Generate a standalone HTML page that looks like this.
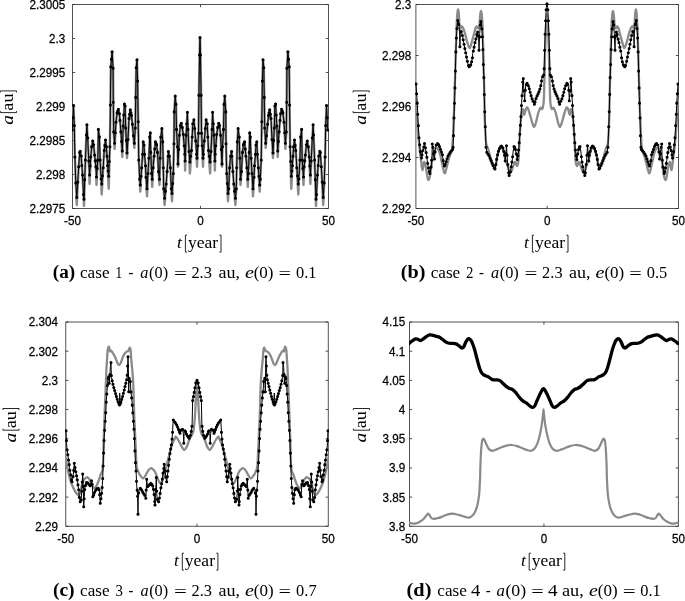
<!DOCTYPE html>
<html><head><meta charset="utf-8"><title>Figure</title>
<style>html,body{margin:0;padding:0;background:#fff;width:685px;height:601px;overflow:hidden}svg{display:block;will-change:transform}</style></head>
<body>
<svg width="685" height="601" viewBox="0 0 685 601"><defs><clipPath id="c1"><rect x="72" y="0" width="257" height="209"/></clipPath><clipPath id="c2"><rect x="415" y="0" width="264" height="209"/></clipPath><clipPath id="c3"><rect x="65" y="318" width="264" height="209"/></clipPath><clipPath id="c4"><rect x="409" y="318" width="270" height="209"/></clipPath></defs>
<g style="font-family:'Liberation Sans',sans-serif;font-size:11.7px" fill="#000" stroke="#000" stroke-width="0.25">
<path d="M72.5,4.5H328.5V208.5H72.5Z" fill="none" stroke="#262626" stroke-width="0.8"/>
<path d="M72.5,4.50h2.7M328.5,4.50h-2.7M72.5,38.50h2.7M328.5,38.50h-2.7M72.5,72.50h2.7M328.5,72.50h-2.7M72.5,106.50h2.7M328.5,106.50h-2.7M72.5,140.50h2.7M328.5,140.50h-2.7M72.5,174.50h2.7M328.5,174.50h-2.7M72.5,208.50h2.7M328.5,208.50h-2.7M200.5,208.5v-2.7M200.5,4.5v2.7" fill="none" stroke="#262626" stroke-width="0.8"/>
<text transform="translate(65.2,8.90) scale(1,1.03)" text-anchor="end">2.3005</text>
<text transform="translate(65.2,42.90) scale(1,1.03)" text-anchor="end">2.3</text>
<text transform="translate(65.2,76.90) scale(1,1.03)" text-anchor="end">2.2995</text>
<text transform="translate(65.2,110.90) scale(1,1.03)" text-anchor="end">2.299</text>
<text transform="translate(65.2,144.90) scale(1,1.03)" text-anchor="end">2.2985</text>
<text transform="translate(65.2,178.90) scale(1,1.03)" text-anchor="end">2.298</text>
<text transform="translate(65.2,212.90) scale(1,1.03)" text-anchor="end">2.2975</text>
<text transform="translate(72.5,224.90) scale(1,1.03)" text-anchor="middle">-50</text>
<text transform="translate(200.5,224.90) scale(1,1.03)" text-anchor="middle">0</text>
<text transform="translate(328.5,224.90) scale(1,1.03)" text-anchor="middle">50</text>
</g>
<g clip-path="url(#c1)">
<polyline points="72.30,130.00 73.50,105.50 74.30,125.60 74.90,157.00 75.80,183.00 76.80,205.00 78.70,166.80 79.70,152.40 80.20,151.40 81.20,156.00 82.50,175.00 83.50,194.50 84.00,206.00 85.40,160.00 86.40,135.00 86.90,124.70 87.70,138.00 88.80,161.00 89.60,184.00 90.80,157.00 91.70,146.70 92.70,141.00 93.60,144.80 94.60,155.00 95.90,166.80 96.50,185.00 97.80,160.00 98.40,129.40 99.40,137.00 100.10,160.00 101.10,179.00 101.70,194.50 103.20,167.70 104.20,150.50 105.50,140.00 106.40,146.70 107.60,165.80 108.70,188.80 109.90,146.70 110.40,105.00 110.80,66.80 112.10,51.90 113.10,68.30 113.30,102.20 113.70,131.90 114.60,149.00 116.00,122.30 117.10,112.70 118.40,109.30 119.40,113.70 120.00,120.40 120.90,131.90 122.30,157.00 123.20,126.00 124.40,104.00 125.10,106.00 125.70,128.00 127.00,158.00 128.00,139.50 129.00,118.50 130.30,109.90 131.50,115.60 132.40,124.20 133.40,135.70 134.30,148.00 135.30,128.00 135.70,97.40 136.20,67.80 137.00,59.70 137.60,81.10 138.20,121.80 138.80,160.00 139.70,179.20 140.30,191.60 141.70,167.70 142.60,154.30 143.20,141.90 144.00,145.00 144.50,154.30 145.50,165.80 146.00,177.30 147.00,196.40 148.90,158.20 149.70,137.10 150.30,132.90 150.80,152.40 151.60,173.50 152.20,186.90 153.10,167.70 154.10,156.20 155.40,141.90 156.60,144.80 157.50,152.40 158.50,171.60 159.50,185.00 160.80,137.10 161.90,128.50 162.70,141.90 163.30,167.70 163.70,188.80 164.60,205.00 166.20,184.00 167.10,171.60 168.10,156.20 168.40,151.50 169.40,156.20 170.40,167.70 171.30,188.80 172.00,201.20 173.30,173.50 174.00,143.80 174.20,111.90 175.20,96.00 176.00,104.40 176.50,129.40 177.50,146.70 178.00,166.80 179.40,135.20 180.40,125.60 181.30,123.30 182.30,127.50 183.20,134.20 184.20,145.70 184.80,154.30 185.10,170.60 186.10,135.20 187.40,112.30 188.00,129.40 189.00,151.50 189.90,173.50 191.50,150.50 192.80,123.70 193.90,119.70 194.70,128.50 195.70,140.90 196.60,154.30 197.00,166.80 198.50,133.30 198.90,95.20 199.50,55.00 200.00,37.60 200.50,55.00 201.10,95.20 201.50,133.30 203.00,166.80 203.40,154.30 204.30,140.90 205.30,128.50 206.10,119.70 207.20,123.70 208.50,150.50 210.10,173.50 211.00,151.50 212.00,129.40 212.60,112.30 213.90,135.20 214.90,170.60 215.20,154.30 215.80,145.70 216.80,134.20 217.70,127.50 218.70,123.30 219.60,125.60 220.60,135.20 222.00,166.80 222.50,146.70 223.50,129.40 224.00,104.40 224.80,96.00 225.80,111.90 226.00,143.80 226.70,173.50 228.00,201.20 228.70,188.80 229.60,167.70 230.60,156.20 231.60,151.50 231.90,156.20 232.90,171.60 233.80,184.00 235.40,205.00 236.30,188.80 236.70,167.70 237.30,141.90 238.10,128.50 239.20,137.10 240.50,185.00 241.50,171.60 242.50,152.40 243.40,144.80 244.60,141.90 245.90,156.20 246.90,167.70 247.80,186.90 248.40,173.50 249.20,152.40 249.70,132.90 250.30,137.10 251.10,158.20 253.00,196.40 254.00,177.30 254.50,165.80 255.50,154.30 256.00,145.00 256.80,141.90 257.40,154.30 258.30,167.70 259.70,191.60 260.30,179.20 261.20,160.00 261.80,121.80 262.40,81.10 263.00,59.70 263.80,67.80 264.30,97.40 264.70,128.00 265.70,148.00 266.60,135.70 267.60,124.20 268.50,115.60 269.70,109.90 271.00,118.50 272.00,139.50 273.00,158.00 274.30,128.00 274.90,106.00 275.60,104.00 276.80,126.00 277.70,157.00 279.10,131.90 280.00,120.40 280.60,113.70 281.60,109.30 282.90,112.70 284.00,122.30 285.40,149.00 286.30,131.90 286.70,102.20 286.90,68.30 287.90,51.90 289.20,66.80 289.60,105.00 290.10,146.70 291.30,188.80 292.40,165.80 293.60,146.70 294.50,140.00 295.80,150.50 296.80,167.70 298.30,194.50 298.90,179.00 299.90,160.00 300.60,137.00 301.60,129.40 302.20,160.00 303.50,185.00 304.10,166.80 305.40,155.00 306.40,144.80 307.30,141.00 308.30,146.70 309.20,157.00 310.40,184.00 311.20,161.00 312.30,138.00 313.10,124.70 313.60,135.00 314.60,160.00 316.00,206.00 316.50,194.50 317.50,175.00 318.80,156.00 319.80,151.40 320.30,152.40 321.30,166.80 323.20,205.00 324.20,183.00 325.10,157.00 325.70,125.60 326.50,105.50 327.70,130.00" fill="none" stroke="#8a8a8a" stroke-width="2.4" stroke-linejoin="round" stroke-linecap="round"/>
<polyline points="72.30,130.00 73.50,105.50 74.30,125.60 74.90,157.00 75.80,183.00 76.80,197.40 78.70,166.80 79.70,152.40 80.20,151.40 81.20,156.00 82.50,175.00 83.50,194.50 84.00,199.30 85.40,160.00 86.40,135.00 86.90,124.70 87.70,138.00 88.80,161.00 89.60,175.00 90.80,157.00 91.70,146.70 92.70,141.00 93.60,144.80 94.60,155.00 95.90,166.80 96.50,177.00 97.80,160.00 98.40,129.40 99.40,137.00 100.10,160.00 101.10,179.00 101.70,184.00 103.20,167.70 104.20,150.50 105.50,140.00 106.40,146.70 107.60,165.80 108.70,176.30 109.90,146.70 110.40,105.00 110.80,66.80 112.10,51.90 113.10,68.30 113.30,102.20 113.70,131.90 114.60,143.30 116.00,122.30 117.10,112.70 118.40,109.30 119.40,113.70 120.00,120.40 120.90,131.90 122.30,151.00 123.20,126.00 124.40,104.00 125.10,106.00 125.70,128.00 127.00,153.00 128.00,139.50 129.00,118.50 130.30,109.90 131.50,115.60 132.40,124.20 133.40,135.70 134.30,143.30 135.30,128.00 135.70,97.40 136.20,67.80 137.00,59.70 137.60,81.10 138.20,121.80 138.80,160.00 139.70,179.20 140.30,185.00 141.70,167.70 142.60,154.30 143.20,141.90 144.00,145.00 144.50,154.30 145.50,165.80 146.00,177.30 147.00,188.80 148.90,158.20 149.70,137.10 150.30,132.90 150.80,152.40 151.60,173.50 152.20,179.20 153.10,167.70 154.10,156.20 155.40,141.90 156.60,144.80 157.50,152.40 158.50,171.60 159.50,179.20 160.80,137.10 161.90,128.50 162.70,141.90 163.30,167.70 163.70,188.80 164.60,198.30 166.20,184.00 167.10,171.60 168.10,156.20 168.40,151.50 169.40,156.20 170.40,167.70 171.30,188.80 172.00,193.50 173.30,173.50 174.00,143.80 174.20,111.90 175.20,96.00 176.00,104.40 176.50,129.40 177.50,146.70 178.00,163.90 179.40,135.20 180.40,125.60 181.30,123.30 182.30,127.50 183.20,134.20 184.20,145.70 184.80,154.30 185.10,161.00 186.10,135.20 187.40,112.30 188.00,129.40 189.00,151.50 189.90,162.00 191.50,150.50 192.80,123.70 193.90,119.70 194.70,128.50 195.70,140.90 196.60,154.30 197.00,158.20 198.50,133.30 198.90,95.20 199.50,55.00 200.00,37.60 200.50,55.00 201.10,95.20 201.50,133.30 203.00,158.20 203.40,154.30 204.30,140.90 205.30,128.50 206.10,119.70 207.20,123.70 208.50,150.50 210.10,162.00 211.00,151.50 212.00,129.40 212.60,112.30 213.90,135.20 214.90,161.00 215.20,154.30 215.80,145.70 216.80,134.20 217.70,127.50 218.70,123.30 219.60,125.60 220.60,135.20 222.00,163.90 222.50,146.70 223.50,129.40 224.00,104.40 224.80,96.00 225.80,111.90 226.00,143.80 226.70,173.50 228.00,193.50 228.70,188.80 229.60,167.70 230.60,156.20 231.60,151.50 231.90,156.20 232.90,171.60 233.80,184.00 235.40,198.30 236.30,188.80 236.70,167.70 237.30,141.90 238.10,128.50 239.20,137.10 240.50,179.20 241.50,171.60 242.50,152.40 243.40,144.80 244.60,141.90 245.90,156.20 246.90,167.70 247.80,179.20 248.40,173.50 249.20,152.40 249.70,132.90 250.30,137.10 251.10,158.20 253.00,188.80 254.00,177.30 254.50,165.80 255.50,154.30 256.00,145.00 256.80,141.90 257.40,154.30 258.30,167.70 259.70,185.00 260.30,179.20 261.20,160.00 261.80,121.80 262.40,81.10 263.00,59.70 263.80,67.80 264.30,97.40 264.70,128.00 265.70,143.30 266.60,135.70 267.60,124.20 268.50,115.60 269.70,109.90 271.00,118.50 272.00,139.50 273.00,153.00 274.30,128.00 274.90,106.00 275.60,104.00 276.80,126.00 277.70,151.00 279.10,131.90 280.00,120.40 280.60,113.70 281.60,109.30 282.90,112.70 284.00,122.30 285.40,143.30 286.30,131.90 286.70,102.20 286.90,68.30 287.90,51.90 289.20,66.80 289.60,105.00 290.10,146.70 291.30,176.30 292.40,165.80 293.60,146.70 294.50,140.00 295.80,150.50 296.80,167.70 298.30,184.00 298.90,179.00 299.90,160.00 300.60,137.00 301.60,129.40 302.20,160.00 303.50,177.00 304.10,166.80 305.40,155.00 306.40,144.80 307.30,141.00 308.30,146.70 309.20,157.00 310.40,175.00 311.20,161.00 312.30,138.00 313.10,124.70 313.60,135.00 314.60,160.00 316.00,199.30 316.50,194.50 317.50,175.00 318.80,156.00 319.80,151.40 320.30,152.40 321.30,166.80 323.20,197.40 324.20,183.00 325.10,157.00 325.70,125.60 326.50,105.50 327.70,130.00" fill="none" stroke="#000" stroke-width="1.0" stroke-linejoin="round" stroke-linecap="round"/>
<path d="M70.75,130.00a1.55,1.55 0 1,0 3.1,0a1.55,1.55 0 1,0 -3.1,0M71.35,117.75a1.55,1.55 0 1,0 3.1,0a1.55,1.55 0 1,0 -3.1,0M71.95,105.50a1.55,1.55 0 1,0 3.1,0a1.55,1.55 0 1,0 -3.1,0M72.75,125.60a1.55,1.55 0 1,0 3.1,0a1.55,1.55 0 1,0 -3.1,0M73.35,157.00a1.55,1.55 0 1,0 3.1,0a1.55,1.55 0 1,0 -3.1,0M74.25,183.00a1.55,1.55 0 1,0 3.1,0a1.55,1.55 0 1,0 -3.1,0M75.25,197.40a1.55,1.55 0 1,0 3.1,0a1.55,1.55 0 1,0 -3.1,0M76.20,182.10a1.55,1.55 0 1,0 3.1,0a1.55,1.55 0 1,0 -3.1,0M77.15,166.80a1.55,1.55 0 1,0 3.1,0a1.55,1.55 0 1,0 -3.1,0M78.15,152.40a1.55,1.55 0 1,0 3.1,0a1.55,1.55 0 1,0 -3.1,0M78.65,151.40a1.55,1.55 0 1,0 3.1,0a1.55,1.55 0 1,0 -3.1,0M79.65,156.00a1.55,1.55 0 1,0 3.1,0a1.55,1.55 0 1,0 -3.1,0M80.30,165.50a1.55,1.55 0 1,0 3.1,0a1.55,1.55 0 1,0 -3.1,0M80.95,175.00a1.55,1.55 0 1,0 3.1,0a1.55,1.55 0 1,0 -3.1,0M81.95,194.50a1.55,1.55 0 1,0 3.1,0a1.55,1.55 0 1,0 -3.1,0M82.45,199.30a1.55,1.55 0 1,0 3.1,0a1.55,1.55 0 1,0 -3.1,0M83.15,179.65a1.55,1.55 0 1,0 3.1,0a1.55,1.55 0 1,0 -3.1,0M83.85,160.00a1.55,1.55 0 1,0 3.1,0a1.55,1.55 0 1,0 -3.1,0M84.85,135.00a1.55,1.55 0 1,0 3.1,0a1.55,1.55 0 1,0 -3.1,0M85.35,124.70a1.55,1.55 0 1,0 3.1,0a1.55,1.55 0 1,0 -3.1,0M86.15,138.00a1.55,1.55 0 1,0 3.1,0a1.55,1.55 0 1,0 -3.1,0M87.25,161.00a1.55,1.55 0 1,0 3.1,0a1.55,1.55 0 1,0 -3.1,0M88.05,175.00a1.55,1.55 0 1,0 3.1,0a1.55,1.55 0 1,0 -3.1,0M88.65,166.00a1.55,1.55 0 1,0 3.1,0a1.55,1.55 0 1,0 -3.1,0M89.25,157.00a1.55,1.55 0 1,0 3.1,0a1.55,1.55 0 1,0 -3.1,0M90.15,146.70a1.55,1.55 0 1,0 3.1,0a1.55,1.55 0 1,0 -3.1,0M91.15,141.00a1.55,1.55 0 1,0 3.1,0a1.55,1.55 0 1,0 -3.1,0M92.05,144.80a1.55,1.55 0 1,0 3.1,0a1.55,1.55 0 1,0 -3.1,0M93.05,155.00a1.55,1.55 0 1,0 3.1,0a1.55,1.55 0 1,0 -3.1,0M93.70,160.90a1.55,1.55 0 1,0 3.1,0a1.55,1.55 0 1,0 -3.1,0M94.35,166.80a1.55,1.55 0 1,0 3.1,0a1.55,1.55 0 1,0 -3.1,0M94.95,177.00a1.55,1.55 0 1,0 3.1,0a1.55,1.55 0 1,0 -3.1,0M95.60,168.50a1.55,1.55 0 1,0 3.1,0a1.55,1.55 0 1,0 -3.1,0M96.25,160.00a1.55,1.55 0 1,0 3.1,0a1.55,1.55 0 1,0 -3.1,0M96.85,129.40a1.55,1.55 0 1,0 3.1,0a1.55,1.55 0 1,0 -3.1,0M97.85,137.00a1.55,1.55 0 1,0 3.1,0a1.55,1.55 0 1,0 -3.1,0M98.55,160.00a1.55,1.55 0 1,0 3.1,0a1.55,1.55 0 1,0 -3.1,0M99.55,179.00a1.55,1.55 0 1,0 3.1,0a1.55,1.55 0 1,0 -3.1,0M100.15,184.00a1.55,1.55 0 1,0 3.1,0a1.55,1.55 0 1,0 -3.1,0M100.90,175.85a1.55,1.55 0 1,0 3.1,0a1.55,1.55 0 1,0 -3.1,0M101.65,167.70a1.55,1.55 0 1,0 3.1,0a1.55,1.55 0 1,0 -3.1,0M102.65,150.50a1.55,1.55 0 1,0 3.1,0a1.55,1.55 0 1,0 -3.1,0M103.30,145.25a1.55,1.55 0 1,0 3.1,0a1.55,1.55 0 1,0 -3.1,0M103.95,140.00a1.55,1.55 0 1,0 3.1,0a1.55,1.55 0 1,0 -3.1,0M104.85,146.70a1.55,1.55 0 1,0 3.1,0a1.55,1.55 0 1,0 -3.1,0M105.45,156.25a1.55,1.55 0 1,0 3.1,0a1.55,1.55 0 1,0 -3.1,0M106.05,165.80a1.55,1.55 0 1,0 3.1,0a1.55,1.55 0 1,0 -3.1,0M106.60,171.05a1.55,1.55 0 1,0 3.1,0a1.55,1.55 0 1,0 -3.1,0M107.15,176.30a1.55,1.55 0 1,0 3.1,0a1.55,1.55 0 1,0 -3.1,0M107.75,161.50a1.55,1.55 0 1,0 3.1,0a1.55,1.55 0 1,0 -3.1,0M108.35,146.70a1.55,1.55 0 1,0 3.1,0a1.55,1.55 0 1,0 -3.1,0M108.85,105.00a1.55,1.55 0 1,0 3.1,0a1.55,1.55 0 1,0 -3.1,0M109.25,66.80a1.55,1.55 0 1,0 3.1,0a1.55,1.55 0 1,0 -3.1,0M109.90,59.35a1.55,1.55 0 1,0 3.1,0a1.55,1.55 0 1,0 -3.1,0M110.55,51.90a1.55,1.55 0 1,0 3.1,0a1.55,1.55 0 1,0 -3.1,0M111.55,68.30a1.55,1.55 0 1,0 3.1,0a1.55,1.55 0 1,0 -3.1,0M111.75,102.20a1.55,1.55 0 1,0 3.1,0a1.55,1.55 0 1,0 -3.1,0M112.15,131.90a1.55,1.55 0 1,0 3.1,0a1.55,1.55 0 1,0 -3.1,0M113.05,143.30a1.55,1.55 0 1,0 3.1,0a1.55,1.55 0 1,0 -3.1,0M113.75,132.80a1.55,1.55 0 1,0 3.1,0a1.55,1.55 0 1,0 -3.1,0M114.45,122.30a1.55,1.55 0 1,0 3.1,0a1.55,1.55 0 1,0 -3.1,0M115.55,112.70a1.55,1.55 0 1,0 3.1,0a1.55,1.55 0 1,0 -3.1,0M116.20,111.00a1.55,1.55 0 1,0 3.1,0a1.55,1.55 0 1,0 -3.1,0M116.85,109.30a1.55,1.55 0 1,0 3.1,0a1.55,1.55 0 1,0 -3.1,0M117.85,113.70a1.55,1.55 0 1,0 3.1,0a1.55,1.55 0 1,0 -3.1,0M118.45,120.40a1.55,1.55 0 1,0 3.1,0a1.55,1.55 0 1,0 -3.1,0M119.35,131.90a1.55,1.55 0 1,0 3.1,0a1.55,1.55 0 1,0 -3.1,0M120.05,141.45a1.55,1.55 0 1,0 3.1,0a1.55,1.55 0 1,0 -3.1,0M120.75,151.00a1.55,1.55 0 1,0 3.1,0a1.55,1.55 0 1,0 -3.1,0M121.65,126.00a1.55,1.55 0 1,0 3.1,0a1.55,1.55 0 1,0 -3.1,0M122.25,115.00a1.55,1.55 0 1,0 3.1,0a1.55,1.55 0 1,0 -3.1,0M122.85,104.00a1.55,1.55 0 1,0 3.1,0a1.55,1.55 0 1,0 -3.1,0M123.55,106.00a1.55,1.55 0 1,0 3.1,0a1.55,1.55 0 1,0 -3.1,0M124.15,128.00a1.55,1.55 0 1,0 3.1,0a1.55,1.55 0 1,0 -3.1,0M124.80,140.50a1.55,1.55 0 1,0 3.1,0a1.55,1.55 0 1,0 -3.1,0M125.45,153.00a1.55,1.55 0 1,0 3.1,0a1.55,1.55 0 1,0 -3.1,0M126.45,139.50a1.55,1.55 0 1,0 3.1,0a1.55,1.55 0 1,0 -3.1,0M127.45,118.50a1.55,1.55 0 1,0 3.1,0a1.55,1.55 0 1,0 -3.1,0M128.10,114.20a1.55,1.55 0 1,0 3.1,0a1.55,1.55 0 1,0 -3.1,0M128.75,109.90a1.55,1.55 0 1,0 3.1,0a1.55,1.55 0 1,0 -3.1,0M129.35,112.75a1.55,1.55 0 1,0 3.1,0a1.55,1.55 0 1,0 -3.1,0M129.95,115.60a1.55,1.55 0 1,0 3.1,0a1.55,1.55 0 1,0 -3.1,0M130.85,124.20a1.55,1.55 0 1,0 3.1,0a1.55,1.55 0 1,0 -3.1,0M131.85,135.70a1.55,1.55 0 1,0 3.1,0a1.55,1.55 0 1,0 -3.1,0M132.75,143.30a1.55,1.55 0 1,0 3.1,0a1.55,1.55 0 1,0 -3.1,0M133.75,128.00a1.55,1.55 0 1,0 3.1,0a1.55,1.55 0 1,0 -3.1,0M134.15,97.40a1.55,1.55 0 1,0 3.1,0a1.55,1.55 0 1,0 -3.1,0M134.65,67.80a1.55,1.55 0 1,0 3.1,0a1.55,1.55 0 1,0 -3.1,0M135.45,59.70a1.55,1.55 0 1,0 3.1,0a1.55,1.55 0 1,0 -3.1,0M136.05,81.10a1.55,1.55 0 1,0 3.1,0a1.55,1.55 0 1,0 -3.1,0M136.65,121.80a1.55,1.55 0 1,0 3.1,0a1.55,1.55 0 1,0 -3.1,0M137.25,160.00a1.55,1.55 0 1,0 3.1,0a1.55,1.55 0 1,0 -3.1,0M138.15,179.20a1.55,1.55 0 1,0 3.1,0a1.55,1.55 0 1,0 -3.1,0M138.75,185.00a1.55,1.55 0 1,0 3.1,0a1.55,1.55 0 1,0 -3.1,0M139.45,176.35a1.55,1.55 0 1,0 3.1,0a1.55,1.55 0 1,0 -3.1,0M140.15,167.70a1.55,1.55 0 1,0 3.1,0a1.55,1.55 0 1,0 -3.1,0M141.05,154.30a1.55,1.55 0 1,0 3.1,0a1.55,1.55 0 1,0 -3.1,0M141.65,141.90a1.55,1.55 0 1,0 3.1,0a1.55,1.55 0 1,0 -3.1,0M142.45,145.00a1.55,1.55 0 1,0 3.1,0a1.55,1.55 0 1,0 -3.1,0M142.95,154.30a1.55,1.55 0 1,0 3.1,0a1.55,1.55 0 1,0 -3.1,0M143.95,165.80a1.55,1.55 0 1,0 3.1,0a1.55,1.55 0 1,0 -3.1,0M144.45,177.30a1.55,1.55 0 1,0 3.1,0a1.55,1.55 0 1,0 -3.1,0M145.45,188.80a1.55,1.55 0 1,0 3.1,0a1.55,1.55 0 1,0 -3.1,0M146.40,173.50a1.55,1.55 0 1,0 3.1,0a1.55,1.55 0 1,0 -3.1,0M147.35,158.20a1.55,1.55 0 1,0 3.1,0a1.55,1.55 0 1,0 -3.1,0M148.15,137.10a1.55,1.55 0 1,0 3.1,0a1.55,1.55 0 1,0 -3.1,0M148.75,132.90a1.55,1.55 0 1,0 3.1,0a1.55,1.55 0 1,0 -3.1,0M149.25,152.40a1.55,1.55 0 1,0 3.1,0a1.55,1.55 0 1,0 -3.1,0M150.05,173.50a1.55,1.55 0 1,0 3.1,0a1.55,1.55 0 1,0 -3.1,0M150.65,179.20a1.55,1.55 0 1,0 3.1,0a1.55,1.55 0 1,0 -3.1,0M151.55,167.70a1.55,1.55 0 1,0 3.1,0a1.55,1.55 0 1,0 -3.1,0M152.55,156.20a1.55,1.55 0 1,0 3.1,0a1.55,1.55 0 1,0 -3.1,0M153.20,149.05a1.55,1.55 0 1,0 3.1,0a1.55,1.55 0 1,0 -3.1,0M153.85,141.90a1.55,1.55 0 1,0 3.1,0a1.55,1.55 0 1,0 -3.1,0M154.45,143.35a1.55,1.55 0 1,0 3.1,0a1.55,1.55 0 1,0 -3.1,0M155.05,144.80a1.55,1.55 0 1,0 3.1,0a1.55,1.55 0 1,0 -3.1,0M155.95,152.40a1.55,1.55 0 1,0 3.1,0a1.55,1.55 0 1,0 -3.1,0M156.95,171.60a1.55,1.55 0 1,0 3.1,0a1.55,1.55 0 1,0 -3.1,0M157.95,179.20a1.55,1.55 0 1,0 3.1,0a1.55,1.55 0 1,0 -3.1,0M158.60,158.15a1.55,1.55 0 1,0 3.1,0a1.55,1.55 0 1,0 -3.1,0M159.25,137.10a1.55,1.55 0 1,0 3.1,0a1.55,1.55 0 1,0 -3.1,0M160.35,128.50a1.55,1.55 0 1,0 3.1,0a1.55,1.55 0 1,0 -3.1,0M161.15,141.90a1.55,1.55 0 1,0 3.1,0a1.55,1.55 0 1,0 -3.1,0M161.75,167.70a1.55,1.55 0 1,0 3.1,0a1.55,1.55 0 1,0 -3.1,0M162.15,188.80a1.55,1.55 0 1,0 3.1,0a1.55,1.55 0 1,0 -3.1,0M163.05,198.30a1.55,1.55 0 1,0 3.1,0a1.55,1.55 0 1,0 -3.1,0M163.85,191.15a1.55,1.55 0 1,0 3.1,0a1.55,1.55 0 1,0 -3.1,0M164.65,184.00a1.55,1.55 0 1,0 3.1,0a1.55,1.55 0 1,0 -3.1,0M165.55,171.60a1.55,1.55 0 1,0 3.1,0a1.55,1.55 0 1,0 -3.1,0M166.55,156.20a1.55,1.55 0 1,0 3.1,0a1.55,1.55 0 1,0 -3.1,0M166.85,151.50a1.55,1.55 0 1,0 3.1,0a1.55,1.55 0 1,0 -3.1,0M167.85,156.20a1.55,1.55 0 1,0 3.1,0a1.55,1.55 0 1,0 -3.1,0M168.85,167.70a1.55,1.55 0 1,0 3.1,0a1.55,1.55 0 1,0 -3.1,0M169.75,188.80a1.55,1.55 0 1,0 3.1,0a1.55,1.55 0 1,0 -3.1,0M170.45,193.50a1.55,1.55 0 1,0 3.1,0a1.55,1.55 0 1,0 -3.1,0M171.10,183.50a1.55,1.55 0 1,0 3.1,0a1.55,1.55 0 1,0 -3.1,0M171.75,173.50a1.55,1.55 0 1,0 3.1,0a1.55,1.55 0 1,0 -3.1,0M172.45,143.80a1.55,1.55 0 1,0 3.1,0a1.55,1.55 0 1,0 -3.1,0M172.65,111.90a1.55,1.55 0 1,0 3.1,0a1.55,1.55 0 1,0 -3.1,0M173.65,96.00a1.55,1.55 0 1,0 3.1,0a1.55,1.55 0 1,0 -3.1,0M174.45,104.40a1.55,1.55 0 1,0 3.1,0a1.55,1.55 0 1,0 -3.1,0M174.95,129.40a1.55,1.55 0 1,0 3.1,0a1.55,1.55 0 1,0 -3.1,0M175.95,146.70a1.55,1.55 0 1,0 3.1,0a1.55,1.55 0 1,0 -3.1,0M176.45,163.90a1.55,1.55 0 1,0 3.1,0a1.55,1.55 0 1,0 -3.1,0M177.15,149.55a1.55,1.55 0 1,0 3.1,0a1.55,1.55 0 1,0 -3.1,0M177.85,135.20a1.55,1.55 0 1,0 3.1,0a1.55,1.55 0 1,0 -3.1,0M178.85,125.60a1.55,1.55 0 1,0 3.1,0a1.55,1.55 0 1,0 -3.1,0M179.75,123.30a1.55,1.55 0 1,0 3.1,0a1.55,1.55 0 1,0 -3.1,0M180.75,127.50a1.55,1.55 0 1,0 3.1,0a1.55,1.55 0 1,0 -3.1,0M181.65,134.20a1.55,1.55 0 1,0 3.1,0a1.55,1.55 0 1,0 -3.1,0M182.65,145.70a1.55,1.55 0 1,0 3.1,0a1.55,1.55 0 1,0 -3.1,0M183.25,154.30a1.55,1.55 0 1,0 3.1,0a1.55,1.55 0 1,0 -3.1,0M183.55,161.00a1.55,1.55 0 1,0 3.1,0a1.55,1.55 0 1,0 -3.1,0M184.55,135.20a1.55,1.55 0 1,0 3.1,0a1.55,1.55 0 1,0 -3.1,0M185.20,123.75a1.55,1.55 0 1,0 3.1,0a1.55,1.55 0 1,0 -3.1,0M185.85,112.30a1.55,1.55 0 1,0 3.1,0a1.55,1.55 0 1,0 -3.1,0M186.45,129.40a1.55,1.55 0 1,0 3.1,0a1.55,1.55 0 1,0 -3.1,0M187.45,151.50a1.55,1.55 0 1,0 3.1,0a1.55,1.55 0 1,0 -3.1,0M188.35,162.00a1.55,1.55 0 1,0 3.1,0a1.55,1.55 0 1,0 -3.1,0M189.15,156.25a1.55,1.55 0 1,0 3.1,0a1.55,1.55 0 1,0 -3.1,0M189.95,150.50a1.55,1.55 0 1,0 3.1,0a1.55,1.55 0 1,0 -3.1,0M190.60,137.10a1.55,1.55 0 1,0 3.1,0a1.55,1.55 0 1,0 -3.1,0M191.25,123.70a1.55,1.55 0 1,0 3.1,0a1.55,1.55 0 1,0 -3.1,0M192.35,119.70a1.55,1.55 0 1,0 3.1,0a1.55,1.55 0 1,0 -3.1,0M193.15,128.50a1.55,1.55 0 1,0 3.1,0a1.55,1.55 0 1,0 -3.1,0M194.15,140.90a1.55,1.55 0 1,0 3.1,0a1.55,1.55 0 1,0 -3.1,0M195.05,154.30a1.55,1.55 0 1,0 3.1,0a1.55,1.55 0 1,0 -3.1,0M195.45,158.20a1.55,1.55 0 1,0 3.1,0a1.55,1.55 0 1,0 -3.1,0M196.20,145.75a1.55,1.55 0 1,0 3.1,0a1.55,1.55 0 1,0 -3.1,0M196.95,133.30a1.55,1.55 0 1,0 3.1,0a1.55,1.55 0 1,0 -3.1,0M197.35,95.20a1.55,1.55 0 1,0 3.1,0a1.55,1.55 0 1,0 -3.1,0M197.95,55.00a1.55,1.55 0 1,0 3.1,0a1.55,1.55 0 1,0 -3.1,0M198.45,37.60a1.55,1.55 0 1,0 3.1,0a1.55,1.55 0 1,0 -3.1,0M326.15,130.00a1.55,1.55 0 1,0 3.1,0a1.55,1.55 0 1,0 -3.1,0M325.55,117.75a1.55,1.55 0 1,0 3.1,0a1.55,1.55 0 1,0 -3.1,0M324.95,105.50a1.55,1.55 0 1,0 3.1,0a1.55,1.55 0 1,0 -3.1,0M324.15,125.60a1.55,1.55 0 1,0 3.1,0a1.55,1.55 0 1,0 -3.1,0M323.55,157.00a1.55,1.55 0 1,0 3.1,0a1.55,1.55 0 1,0 -3.1,0M322.65,183.00a1.55,1.55 0 1,0 3.1,0a1.55,1.55 0 1,0 -3.1,0M321.65,197.40a1.55,1.55 0 1,0 3.1,0a1.55,1.55 0 1,0 -3.1,0M320.70,182.10a1.55,1.55 0 1,0 3.1,0a1.55,1.55 0 1,0 -3.1,0M319.75,166.80a1.55,1.55 0 1,0 3.1,0a1.55,1.55 0 1,0 -3.1,0M318.75,152.40a1.55,1.55 0 1,0 3.1,0a1.55,1.55 0 1,0 -3.1,0M318.25,151.40a1.55,1.55 0 1,0 3.1,0a1.55,1.55 0 1,0 -3.1,0M317.25,156.00a1.55,1.55 0 1,0 3.1,0a1.55,1.55 0 1,0 -3.1,0M316.60,165.50a1.55,1.55 0 1,0 3.1,0a1.55,1.55 0 1,0 -3.1,0M315.95,175.00a1.55,1.55 0 1,0 3.1,0a1.55,1.55 0 1,0 -3.1,0M314.95,194.50a1.55,1.55 0 1,0 3.1,0a1.55,1.55 0 1,0 -3.1,0M314.45,199.30a1.55,1.55 0 1,0 3.1,0a1.55,1.55 0 1,0 -3.1,0M313.75,179.65a1.55,1.55 0 1,0 3.1,0a1.55,1.55 0 1,0 -3.1,0M313.05,160.00a1.55,1.55 0 1,0 3.1,0a1.55,1.55 0 1,0 -3.1,0M312.05,135.00a1.55,1.55 0 1,0 3.1,0a1.55,1.55 0 1,0 -3.1,0M311.55,124.70a1.55,1.55 0 1,0 3.1,0a1.55,1.55 0 1,0 -3.1,0M310.75,138.00a1.55,1.55 0 1,0 3.1,0a1.55,1.55 0 1,0 -3.1,0M309.65,161.00a1.55,1.55 0 1,0 3.1,0a1.55,1.55 0 1,0 -3.1,0M308.85,175.00a1.55,1.55 0 1,0 3.1,0a1.55,1.55 0 1,0 -3.1,0M308.25,166.00a1.55,1.55 0 1,0 3.1,0a1.55,1.55 0 1,0 -3.1,0M307.65,157.00a1.55,1.55 0 1,0 3.1,0a1.55,1.55 0 1,0 -3.1,0M306.75,146.70a1.55,1.55 0 1,0 3.1,0a1.55,1.55 0 1,0 -3.1,0M305.75,141.00a1.55,1.55 0 1,0 3.1,0a1.55,1.55 0 1,0 -3.1,0M304.85,144.80a1.55,1.55 0 1,0 3.1,0a1.55,1.55 0 1,0 -3.1,0M303.85,155.00a1.55,1.55 0 1,0 3.1,0a1.55,1.55 0 1,0 -3.1,0M303.20,160.90a1.55,1.55 0 1,0 3.1,0a1.55,1.55 0 1,0 -3.1,0M302.55,166.80a1.55,1.55 0 1,0 3.1,0a1.55,1.55 0 1,0 -3.1,0M301.95,177.00a1.55,1.55 0 1,0 3.1,0a1.55,1.55 0 1,0 -3.1,0M301.30,168.50a1.55,1.55 0 1,0 3.1,0a1.55,1.55 0 1,0 -3.1,0M300.65,160.00a1.55,1.55 0 1,0 3.1,0a1.55,1.55 0 1,0 -3.1,0M300.05,129.40a1.55,1.55 0 1,0 3.1,0a1.55,1.55 0 1,0 -3.1,0M299.05,137.00a1.55,1.55 0 1,0 3.1,0a1.55,1.55 0 1,0 -3.1,0M298.35,160.00a1.55,1.55 0 1,0 3.1,0a1.55,1.55 0 1,0 -3.1,0M297.35,179.00a1.55,1.55 0 1,0 3.1,0a1.55,1.55 0 1,0 -3.1,0M296.75,184.00a1.55,1.55 0 1,0 3.1,0a1.55,1.55 0 1,0 -3.1,0M296.00,175.85a1.55,1.55 0 1,0 3.1,0a1.55,1.55 0 1,0 -3.1,0M295.25,167.70a1.55,1.55 0 1,0 3.1,0a1.55,1.55 0 1,0 -3.1,0M294.25,150.50a1.55,1.55 0 1,0 3.1,0a1.55,1.55 0 1,0 -3.1,0M293.60,145.25a1.55,1.55 0 1,0 3.1,0a1.55,1.55 0 1,0 -3.1,0M292.95,140.00a1.55,1.55 0 1,0 3.1,0a1.55,1.55 0 1,0 -3.1,0M292.05,146.70a1.55,1.55 0 1,0 3.1,0a1.55,1.55 0 1,0 -3.1,0M291.45,156.25a1.55,1.55 0 1,0 3.1,0a1.55,1.55 0 1,0 -3.1,0M290.85,165.80a1.55,1.55 0 1,0 3.1,0a1.55,1.55 0 1,0 -3.1,0M290.30,171.05a1.55,1.55 0 1,0 3.1,0a1.55,1.55 0 1,0 -3.1,0M289.75,176.30a1.55,1.55 0 1,0 3.1,0a1.55,1.55 0 1,0 -3.1,0M289.15,161.50a1.55,1.55 0 1,0 3.1,0a1.55,1.55 0 1,0 -3.1,0M288.55,146.70a1.55,1.55 0 1,0 3.1,0a1.55,1.55 0 1,0 -3.1,0M288.05,105.00a1.55,1.55 0 1,0 3.1,0a1.55,1.55 0 1,0 -3.1,0M287.65,66.80a1.55,1.55 0 1,0 3.1,0a1.55,1.55 0 1,0 -3.1,0M287.00,59.35a1.55,1.55 0 1,0 3.1,0a1.55,1.55 0 1,0 -3.1,0M286.35,51.90a1.55,1.55 0 1,0 3.1,0a1.55,1.55 0 1,0 -3.1,0M285.35,68.30a1.55,1.55 0 1,0 3.1,0a1.55,1.55 0 1,0 -3.1,0M285.15,102.20a1.55,1.55 0 1,0 3.1,0a1.55,1.55 0 1,0 -3.1,0M284.75,131.90a1.55,1.55 0 1,0 3.1,0a1.55,1.55 0 1,0 -3.1,0M283.85,143.30a1.55,1.55 0 1,0 3.1,0a1.55,1.55 0 1,0 -3.1,0M283.15,132.80a1.55,1.55 0 1,0 3.1,0a1.55,1.55 0 1,0 -3.1,0M282.45,122.30a1.55,1.55 0 1,0 3.1,0a1.55,1.55 0 1,0 -3.1,0M281.35,112.70a1.55,1.55 0 1,0 3.1,0a1.55,1.55 0 1,0 -3.1,0M280.70,111.00a1.55,1.55 0 1,0 3.1,0a1.55,1.55 0 1,0 -3.1,0M280.05,109.30a1.55,1.55 0 1,0 3.1,0a1.55,1.55 0 1,0 -3.1,0M279.05,113.70a1.55,1.55 0 1,0 3.1,0a1.55,1.55 0 1,0 -3.1,0M278.45,120.40a1.55,1.55 0 1,0 3.1,0a1.55,1.55 0 1,0 -3.1,0M277.55,131.90a1.55,1.55 0 1,0 3.1,0a1.55,1.55 0 1,0 -3.1,0M276.85,141.45a1.55,1.55 0 1,0 3.1,0a1.55,1.55 0 1,0 -3.1,0M276.15,151.00a1.55,1.55 0 1,0 3.1,0a1.55,1.55 0 1,0 -3.1,0M275.25,126.00a1.55,1.55 0 1,0 3.1,0a1.55,1.55 0 1,0 -3.1,0M274.65,115.00a1.55,1.55 0 1,0 3.1,0a1.55,1.55 0 1,0 -3.1,0M274.05,104.00a1.55,1.55 0 1,0 3.1,0a1.55,1.55 0 1,0 -3.1,0M273.35,106.00a1.55,1.55 0 1,0 3.1,0a1.55,1.55 0 1,0 -3.1,0M272.75,128.00a1.55,1.55 0 1,0 3.1,0a1.55,1.55 0 1,0 -3.1,0M272.10,140.50a1.55,1.55 0 1,0 3.1,0a1.55,1.55 0 1,0 -3.1,0M271.45,153.00a1.55,1.55 0 1,0 3.1,0a1.55,1.55 0 1,0 -3.1,0M270.45,139.50a1.55,1.55 0 1,0 3.1,0a1.55,1.55 0 1,0 -3.1,0M269.45,118.50a1.55,1.55 0 1,0 3.1,0a1.55,1.55 0 1,0 -3.1,0M268.80,114.20a1.55,1.55 0 1,0 3.1,0a1.55,1.55 0 1,0 -3.1,0M268.15,109.90a1.55,1.55 0 1,0 3.1,0a1.55,1.55 0 1,0 -3.1,0M267.55,112.75a1.55,1.55 0 1,0 3.1,0a1.55,1.55 0 1,0 -3.1,0M266.95,115.60a1.55,1.55 0 1,0 3.1,0a1.55,1.55 0 1,0 -3.1,0M266.05,124.20a1.55,1.55 0 1,0 3.1,0a1.55,1.55 0 1,0 -3.1,0M265.05,135.70a1.55,1.55 0 1,0 3.1,0a1.55,1.55 0 1,0 -3.1,0M264.15,143.30a1.55,1.55 0 1,0 3.1,0a1.55,1.55 0 1,0 -3.1,0M263.15,128.00a1.55,1.55 0 1,0 3.1,0a1.55,1.55 0 1,0 -3.1,0M262.75,97.40a1.55,1.55 0 1,0 3.1,0a1.55,1.55 0 1,0 -3.1,0M262.25,67.80a1.55,1.55 0 1,0 3.1,0a1.55,1.55 0 1,0 -3.1,0M261.45,59.70a1.55,1.55 0 1,0 3.1,0a1.55,1.55 0 1,0 -3.1,0M260.85,81.10a1.55,1.55 0 1,0 3.1,0a1.55,1.55 0 1,0 -3.1,0M260.25,121.80a1.55,1.55 0 1,0 3.1,0a1.55,1.55 0 1,0 -3.1,0M259.65,160.00a1.55,1.55 0 1,0 3.1,0a1.55,1.55 0 1,0 -3.1,0M258.75,179.20a1.55,1.55 0 1,0 3.1,0a1.55,1.55 0 1,0 -3.1,0M258.15,185.00a1.55,1.55 0 1,0 3.1,0a1.55,1.55 0 1,0 -3.1,0M257.45,176.35a1.55,1.55 0 1,0 3.1,0a1.55,1.55 0 1,0 -3.1,0M256.75,167.70a1.55,1.55 0 1,0 3.1,0a1.55,1.55 0 1,0 -3.1,0M255.85,154.30a1.55,1.55 0 1,0 3.1,0a1.55,1.55 0 1,0 -3.1,0M255.25,141.90a1.55,1.55 0 1,0 3.1,0a1.55,1.55 0 1,0 -3.1,0M254.45,145.00a1.55,1.55 0 1,0 3.1,0a1.55,1.55 0 1,0 -3.1,0M253.95,154.30a1.55,1.55 0 1,0 3.1,0a1.55,1.55 0 1,0 -3.1,0M252.95,165.80a1.55,1.55 0 1,0 3.1,0a1.55,1.55 0 1,0 -3.1,0M252.45,177.30a1.55,1.55 0 1,0 3.1,0a1.55,1.55 0 1,0 -3.1,0M251.45,188.80a1.55,1.55 0 1,0 3.1,0a1.55,1.55 0 1,0 -3.1,0M250.50,173.50a1.55,1.55 0 1,0 3.1,0a1.55,1.55 0 1,0 -3.1,0M249.55,158.20a1.55,1.55 0 1,0 3.1,0a1.55,1.55 0 1,0 -3.1,0M248.75,137.10a1.55,1.55 0 1,0 3.1,0a1.55,1.55 0 1,0 -3.1,0M248.15,132.90a1.55,1.55 0 1,0 3.1,0a1.55,1.55 0 1,0 -3.1,0M247.65,152.40a1.55,1.55 0 1,0 3.1,0a1.55,1.55 0 1,0 -3.1,0M246.85,173.50a1.55,1.55 0 1,0 3.1,0a1.55,1.55 0 1,0 -3.1,0M246.25,179.20a1.55,1.55 0 1,0 3.1,0a1.55,1.55 0 1,0 -3.1,0M245.35,167.70a1.55,1.55 0 1,0 3.1,0a1.55,1.55 0 1,0 -3.1,0M244.35,156.20a1.55,1.55 0 1,0 3.1,0a1.55,1.55 0 1,0 -3.1,0M243.70,149.05a1.55,1.55 0 1,0 3.1,0a1.55,1.55 0 1,0 -3.1,0M243.05,141.90a1.55,1.55 0 1,0 3.1,0a1.55,1.55 0 1,0 -3.1,0M242.45,143.35a1.55,1.55 0 1,0 3.1,0a1.55,1.55 0 1,0 -3.1,0M241.85,144.80a1.55,1.55 0 1,0 3.1,0a1.55,1.55 0 1,0 -3.1,0M240.95,152.40a1.55,1.55 0 1,0 3.1,0a1.55,1.55 0 1,0 -3.1,0M239.95,171.60a1.55,1.55 0 1,0 3.1,0a1.55,1.55 0 1,0 -3.1,0M238.95,179.20a1.55,1.55 0 1,0 3.1,0a1.55,1.55 0 1,0 -3.1,0M238.30,158.15a1.55,1.55 0 1,0 3.1,0a1.55,1.55 0 1,0 -3.1,0M237.65,137.10a1.55,1.55 0 1,0 3.1,0a1.55,1.55 0 1,0 -3.1,0M236.55,128.50a1.55,1.55 0 1,0 3.1,0a1.55,1.55 0 1,0 -3.1,0M235.75,141.90a1.55,1.55 0 1,0 3.1,0a1.55,1.55 0 1,0 -3.1,0M235.15,167.70a1.55,1.55 0 1,0 3.1,0a1.55,1.55 0 1,0 -3.1,0M234.75,188.80a1.55,1.55 0 1,0 3.1,0a1.55,1.55 0 1,0 -3.1,0M233.85,198.30a1.55,1.55 0 1,0 3.1,0a1.55,1.55 0 1,0 -3.1,0M233.05,191.15a1.55,1.55 0 1,0 3.1,0a1.55,1.55 0 1,0 -3.1,0M232.25,184.00a1.55,1.55 0 1,0 3.1,0a1.55,1.55 0 1,0 -3.1,0M231.35,171.60a1.55,1.55 0 1,0 3.1,0a1.55,1.55 0 1,0 -3.1,0M230.35,156.20a1.55,1.55 0 1,0 3.1,0a1.55,1.55 0 1,0 -3.1,0M230.05,151.50a1.55,1.55 0 1,0 3.1,0a1.55,1.55 0 1,0 -3.1,0M229.05,156.20a1.55,1.55 0 1,0 3.1,0a1.55,1.55 0 1,0 -3.1,0M228.05,167.70a1.55,1.55 0 1,0 3.1,0a1.55,1.55 0 1,0 -3.1,0M227.15,188.80a1.55,1.55 0 1,0 3.1,0a1.55,1.55 0 1,0 -3.1,0M226.45,193.50a1.55,1.55 0 1,0 3.1,0a1.55,1.55 0 1,0 -3.1,0M225.80,183.50a1.55,1.55 0 1,0 3.1,0a1.55,1.55 0 1,0 -3.1,0M225.15,173.50a1.55,1.55 0 1,0 3.1,0a1.55,1.55 0 1,0 -3.1,0M224.45,143.80a1.55,1.55 0 1,0 3.1,0a1.55,1.55 0 1,0 -3.1,0M224.25,111.90a1.55,1.55 0 1,0 3.1,0a1.55,1.55 0 1,0 -3.1,0M223.25,96.00a1.55,1.55 0 1,0 3.1,0a1.55,1.55 0 1,0 -3.1,0M222.45,104.40a1.55,1.55 0 1,0 3.1,0a1.55,1.55 0 1,0 -3.1,0M221.95,129.40a1.55,1.55 0 1,0 3.1,0a1.55,1.55 0 1,0 -3.1,0M220.95,146.70a1.55,1.55 0 1,0 3.1,0a1.55,1.55 0 1,0 -3.1,0M220.45,163.90a1.55,1.55 0 1,0 3.1,0a1.55,1.55 0 1,0 -3.1,0M219.75,149.55a1.55,1.55 0 1,0 3.1,0a1.55,1.55 0 1,0 -3.1,0M219.05,135.20a1.55,1.55 0 1,0 3.1,0a1.55,1.55 0 1,0 -3.1,0M218.05,125.60a1.55,1.55 0 1,0 3.1,0a1.55,1.55 0 1,0 -3.1,0M217.15,123.30a1.55,1.55 0 1,0 3.1,0a1.55,1.55 0 1,0 -3.1,0M216.15,127.50a1.55,1.55 0 1,0 3.1,0a1.55,1.55 0 1,0 -3.1,0M215.25,134.20a1.55,1.55 0 1,0 3.1,0a1.55,1.55 0 1,0 -3.1,0M214.25,145.70a1.55,1.55 0 1,0 3.1,0a1.55,1.55 0 1,0 -3.1,0M213.65,154.30a1.55,1.55 0 1,0 3.1,0a1.55,1.55 0 1,0 -3.1,0M213.35,161.00a1.55,1.55 0 1,0 3.1,0a1.55,1.55 0 1,0 -3.1,0M212.35,135.20a1.55,1.55 0 1,0 3.1,0a1.55,1.55 0 1,0 -3.1,0M211.70,123.75a1.55,1.55 0 1,0 3.1,0a1.55,1.55 0 1,0 -3.1,0M211.05,112.30a1.55,1.55 0 1,0 3.1,0a1.55,1.55 0 1,0 -3.1,0M210.45,129.40a1.55,1.55 0 1,0 3.1,0a1.55,1.55 0 1,0 -3.1,0M209.45,151.50a1.55,1.55 0 1,0 3.1,0a1.55,1.55 0 1,0 -3.1,0M208.55,162.00a1.55,1.55 0 1,0 3.1,0a1.55,1.55 0 1,0 -3.1,0M207.75,156.25a1.55,1.55 0 1,0 3.1,0a1.55,1.55 0 1,0 -3.1,0M206.95,150.50a1.55,1.55 0 1,0 3.1,0a1.55,1.55 0 1,0 -3.1,0M206.30,137.10a1.55,1.55 0 1,0 3.1,0a1.55,1.55 0 1,0 -3.1,0M205.65,123.70a1.55,1.55 0 1,0 3.1,0a1.55,1.55 0 1,0 -3.1,0M204.55,119.70a1.55,1.55 0 1,0 3.1,0a1.55,1.55 0 1,0 -3.1,0M203.75,128.50a1.55,1.55 0 1,0 3.1,0a1.55,1.55 0 1,0 -3.1,0M202.75,140.90a1.55,1.55 0 1,0 3.1,0a1.55,1.55 0 1,0 -3.1,0M201.85,154.30a1.55,1.55 0 1,0 3.1,0a1.55,1.55 0 1,0 -3.1,0M201.45,158.20a1.55,1.55 0 1,0 3.1,0a1.55,1.55 0 1,0 -3.1,0M200.70,145.75a1.55,1.55 0 1,0 3.1,0a1.55,1.55 0 1,0 -3.1,0M199.95,133.30a1.55,1.55 0 1,0 3.1,0a1.55,1.55 0 1,0 -3.1,0M199.55,95.20a1.55,1.55 0 1,0 3.1,0a1.55,1.55 0 1,0 -3.1,0M198.95,55.00a1.55,1.55 0 1,0 3.1,0a1.55,1.55 0 1,0 -3.1,0" fill="#000"/>
</g>
<g style="font-family:'Liberation Sans',sans-serif;font-size:11.7px" fill="#000" stroke="#000" stroke-width="0.25">
<path d="M415.9,4.5H678.5V208.5H415.9Z" fill="none" stroke="#262626" stroke-width="0.8"/>
<path d="M415.9,4.50h2.7M678.5,4.50h-2.7M415.9,55.50h2.7M678.5,55.50h-2.7M415.9,106.50h2.7M678.5,106.50h-2.7M415.9,157.50h2.7M678.5,157.50h-2.7M415.9,208.50h2.7M678.5,208.50h-2.7M547.2,208.5v-2.7M547.2,4.5v2.7" fill="none" stroke="#262626" stroke-width="0.8"/>
<text transform="translate(411.3,9.40) scale(1,1.03)" text-anchor="end">2.3</text>
<text transform="translate(411.3,60.40) scale(1,1.03)" text-anchor="end">2.298</text>
<text transform="translate(411.3,111.40) scale(1,1.03)" text-anchor="end">2.296</text>
<text transform="translate(411.3,162.40) scale(1,1.03)" text-anchor="end">2.294</text>
<text transform="translate(411.3,213.40) scale(1,1.03)" text-anchor="end">2.292</text>
<text transform="translate(415.9,224.90) scale(1,1.03)" text-anchor="middle">-50</text>
<text transform="translate(547.2,224.90) scale(1,1.03)" text-anchor="middle">0</text>
<text transform="translate(678.5,224.90) scale(1,1.03)" text-anchor="middle">50</text>
</g>
<g clip-path="url(#c2)">
<path d="M416.00,100.00C416.17,103.00 416.67,112.67 417.00,118.00C417.33,123.33 417.58,127.00 418.00,132.00C418.42,137.00 419.00,143.33 419.50,148.00C420.00,152.67 420.52,156.33 421.00,160.00C421.48,163.67 421.90,169.67 422.40,170.00C422.90,170.33 423.40,162.33 424.00,162.00C424.60,161.67 425.33,165.07 426.00,168.00C426.67,170.93 427.33,178.27 428.00,179.60C428.67,180.93 429.33,178.93 430.00,176.00C430.67,173.07 431.33,166.00 432.00,162.00C432.67,158.00 433.33,154.33 434.00,152.00C434.67,149.67 435.33,148.50 436.00,148.00C436.67,147.50 437.33,148.00 438.00,149.00C438.67,150.00 439.33,151.67 440.00,154.00C440.67,156.33 441.27,159.83 442.00,163.00C442.73,166.17 443.73,171.83 444.40,173.00C445.07,174.17 445.40,171.83 446.00,170.00C446.60,168.17 447.33,164.50 448.00,162.00C448.67,159.50 449.33,157.00 450.00,155.00C450.67,153.00 451.50,153.17 452.00,150.00C452.50,146.83 452.67,142.33 453.00,136.00C453.33,129.67 453.67,121.33 454.00,112.00C454.33,102.67 454.67,91.17 455.00,80.00C455.33,68.83 455.72,54.33 456.00,45.00C456.28,35.67 456.47,29.33 456.70,24.00C456.93,18.67 457.17,15.42 457.40,13.00C457.63,10.58 457.87,9.50 458.10,9.50C458.33,9.50 458.58,10.58 458.80,13.00C459.02,15.42 459.20,21.33 459.40,24.00C459.60,26.67 459.73,28.50 460.00,29.00C460.27,29.50 460.67,27.45 461.00,27.00C461.33,26.55 461.57,25.92 462.00,26.30C462.43,26.68 463.05,27.92 463.60,29.30C464.15,30.68 464.73,32.60 465.30,34.60C465.87,36.60 466.47,39.40 467.00,41.30C467.53,43.20 468.07,44.88 468.50,46.00C468.93,47.12 469.23,48.00 469.60,48.00C469.97,48.00 470.30,47.12 470.70,46.00C471.10,44.88 471.45,43.30 472.00,41.30C472.55,39.30 473.40,36.22 474.00,34.00C474.60,31.78 475.10,29.28 475.60,28.00C476.10,26.72 476.53,26.22 477.00,26.30C477.47,26.38 478.00,28.72 478.40,28.50C478.80,28.28 479.10,27.25 479.40,25.00C479.70,22.75 479.93,17.33 480.20,15.00C480.47,12.67 480.73,11.00 481.00,11.00C481.27,11.00 481.53,12.33 481.80,15.00C482.07,17.67 482.33,20.33 482.60,27.00C482.87,33.67 483.10,42.83 483.40,55.00C483.70,67.17 484.13,88.33 484.40,100.00C484.67,111.67 484.73,118.00 485.00,125.00C485.27,132.00 485.67,138.50 486.00,142.00C486.33,145.50 486.58,144.67 487.00,146.00C487.42,147.33 488.00,148.33 488.50,150.00C489.00,151.67 489.42,154.00 490.00,156.00C490.58,158.00 491.33,160.17 492.00,162.00C492.67,163.83 493.50,166.00 494.00,167.00C494.50,168.00 494.67,168.50 495.00,168.00C495.33,167.50 495.67,165.67 496.00,164.00C496.33,162.33 496.50,160.33 497.00,158.00C497.50,155.67 498.33,151.83 499.00,150.00C499.67,148.17 500.33,147.00 501.00,147.00C501.67,147.00 502.33,148.17 503.00,150.00C503.67,151.83 504.33,155.67 505.00,158.00C505.67,160.33 506.33,162.00 507.00,164.00C507.67,166.00 508.42,168.50 509.00,170.00C509.58,171.50 510.00,173.00 510.50,173.00C511.00,173.00 511.42,171.50 512.00,170.00C512.58,168.50 513.42,165.33 514.00,164.00C514.58,162.67 515.00,161.67 515.50,162.00C516.00,162.33 516.50,166.33 517.00,166.00C517.50,165.67 518.00,165.67 518.50,160.00C519.00,154.33 519.50,139.67 520.00,132.00C520.50,124.33 521.00,117.83 521.50,114.00C522.00,110.17 522.55,108.87 523.00,109.00C523.45,109.13 523.72,114.80 524.20,114.80C524.68,114.80 525.32,110.17 525.90,109.00C526.48,107.83 527.02,106.83 527.70,107.80C528.38,108.77 529.23,112.27 530.00,114.80C530.77,117.33 531.62,120.97 532.30,123.00C532.98,125.03 533.52,127.00 534.10,127.00C534.68,127.00 535.13,125.23 535.80,123.00C536.47,120.77 537.32,116.13 538.10,113.60C538.88,111.07 539.82,108.57 540.50,107.80C541.18,107.03 541.72,109.58 542.20,109.00C542.68,108.42 543.10,106.63 543.40,104.30C543.70,101.97 543.75,102.38 544.00,95.00C544.25,87.62 544.60,70.83 544.90,60.00C545.20,49.17 545.45,37.67 545.80,30.00C546.15,22.33 546.60,14.00 547.00,14.00C547.40,14.00 547.85,22.33 548.20,30.00C548.55,37.67 548.80,49.17 549.10,60.00C549.40,70.83 549.75,87.62 550.00,95.00C550.25,102.38 550.30,101.97 550.60,104.30C550.90,106.63 551.32,108.42 551.80,109.00C552.28,109.58 552.82,107.03 553.50,107.80C554.18,108.57 555.12,111.07 555.90,113.60C556.68,116.13 557.53,120.77 558.20,123.00C558.87,125.23 559.32,127.00 559.90,127.00C560.48,127.00 561.02,125.03 561.70,123.00C562.38,120.97 563.23,117.33 564.00,114.80C564.77,112.27 565.62,108.77 566.30,107.80C566.98,106.83 567.52,107.83 568.10,109.00C568.68,110.17 569.32,114.80 569.80,114.80C570.28,114.80 570.55,109.13 571.00,109.00C571.45,108.87 572.00,110.17 572.50,114.00C573.00,117.83 573.50,124.33 574.00,132.00C574.50,139.67 575.00,154.33 575.50,160.00C576.00,165.67 576.50,165.67 577.00,166.00C577.50,166.33 578.00,162.33 578.50,162.00C579.00,161.67 579.42,162.67 580.00,164.00C580.58,165.33 581.42,168.50 582.00,170.00C582.58,171.50 583.00,173.00 583.50,173.00C584.00,173.00 584.42,171.50 585.00,170.00C585.58,168.50 586.33,166.00 587.00,164.00C587.67,162.00 588.33,160.33 589.00,158.00C589.67,155.67 590.33,151.83 591.00,150.00C591.67,148.17 592.33,147.00 593.00,147.00C593.67,147.00 594.33,148.17 595.00,150.00C595.67,151.83 596.50,155.67 597.00,158.00C597.50,160.33 597.67,162.33 598.00,164.00C598.33,165.67 598.67,167.50 599.00,168.00C599.33,168.50 599.50,168.00 600.00,167.00C600.50,166.00 601.33,163.83 602.00,162.00C602.67,160.17 603.42,158.00 604.00,156.00C604.58,154.00 605.00,151.67 605.50,150.00C606.00,148.33 606.58,147.33 607.00,146.00C607.42,144.67 607.67,145.50 608.00,142.00C608.33,138.50 608.73,132.00 609.00,125.00C609.27,118.00 609.33,111.67 609.60,100.00C609.87,88.33 610.30,67.17 610.60,55.00C610.90,42.83 611.13,33.67 611.40,27.00C611.67,20.33 611.93,17.67 612.20,15.00C612.47,12.33 612.73,11.00 613.00,11.00C613.27,11.00 613.53,12.67 613.80,15.00C614.07,17.33 614.30,22.75 614.60,25.00C614.90,27.25 615.20,28.28 615.60,28.50C616.00,28.72 616.53,26.38 617.00,26.30C617.47,26.22 617.90,26.72 618.40,28.00C618.90,29.28 619.40,31.78 620.00,34.00C620.60,36.22 621.45,39.30 622.00,41.30C622.55,43.30 622.90,44.88 623.30,46.00C623.70,47.12 624.03,48.00 624.40,48.00C624.77,48.00 625.07,47.12 625.50,46.00C625.93,44.88 626.47,43.20 627.00,41.30C627.53,39.40 628.13,36.60 628.70,34.60C629.27,32.60 629.85,30.68 630.40,29.30C630.95,27.92 631.57,26.68 632.00,26.30C632.43,25.92 632.67,26.55 633.00,27.00C633.33,27.45 633.73,29.50 634.00,29.00C634.27,28.50 634.40,26.67 634.60,24.00C634.80,21.33 634.98,15.42 635.20,13.00C635.42,10.58 635.67,9.50 635.90,9.50C636.13,9.50 636.37,10.58 636.60,13.00C636.83,15.42 637.07,18.67 637.30,24.00C637.53,29.33 637.72,35.67 638.00,45.00C638.28,54.33 638.67,68.83 639.00,80.00C639.33,91.17 639.67,102.67 640.00,112.00C640.33,121.33 640.67,129.67 641.00,136.00C641.33,142.33 641.50,146.83 642.00,150.00C642.50,153.17 643.33,153.00 644.00,155.00C644.67,157.00 645.33,159.50 646.00,162.00C646.67,164.50 647.40,168.17 648.00,170.00C648.60,171.83 648.93,174.17 649.60,173.00C650.27,171.83 651.27,166.17 652.00,163.00C652.73,159.83 653.33,156.33 654.00,154.00C654.67,151.67 655.33,150.00 656.00,149.00C656.67,148.00 657.33,147.50 658.00,148.00C658.67,148.50 659.33,149.67 660.00,152.00C660.67,154.33 661.33,158.00 662.00,162.00C662.67,166.00 663.33,173.07 664.00,176.00C664.67,178.93 665.33,180.93 666.00,179.60C666.67,178.27 667.33,170.93 668.00,168.00C668.67,165.07 669.40,161.67 670.00,162.00C670.60,162.33 671.10,170.33 671.60,170.00C672.10,169.67 672.52,163.67 673.00,160.00C673.48,156.33 674.00,152.67 674.50,148.00C675.00,143.33 675.58,137.00 676.00,132.00C676.42,127.00 676.67,123.33 677.00,118.00C677.33,112.67 677.83,103.00 678.00,100.00" fill="none" stroke="#8a8a8a" stroke-width="2.3" stroke-linejoin="round" stroke-linecap="round"/>
<polyline points="416.00,84.00 416.60,93.00 417.40,105.60 418.00,120.00 418.50,128.00 419.00,137.50 419.80,146.00 420.50,153.00 421.50,158.00 422.40,152.00 423.20,149.50 424.50,143.50 425.20,146.50 426.00,151.50 426.80,156.50 427.30,161.00 428.00,166.00 429.00,170.00 429.80,173.50 430.50,170.00 431.20,166.00 432.00,155.00 432.30,144.00 433.00,148.00 433.80,156.00 434.50,159.00 435.20,150.00 436.20,145.00 437.50,143.50 439.00,145.00 440.00,148.00 441.50,152.00 442.50,155.00 443.50,164.00 444.50,166.00 446.00,162.00 448.00,156.00 450.00,152.50 452.00,150.00 453.00,149.00 453.50,136.50 454.00,118.00 454.70,96.70 455.30,74.00 455.80,53.70 456.40,36.80 457.20,25.10 457.80,20.50 458.40,21.60 459.00,26.30 459.60,33.30 459.90,46.70 460.40,32.10 461.30,31.50 462.30,35.00 463.10,39.10 463.70,42.60 464.60,47.30 465.40,51.30 466.20,55.40 466.90,59.00 467.60,62.50 468.40,65.50 469.30,66.80 470.20,66.30 470.90,64.50 471.70,61.50 472.50,57.50 472.70,53.70 473.90,48.40 474.70,43.80 475.90,39.10 476.70,35.00 477.60,32.10 478.60,36.80 479.00,50.20 479.70,33.30 480.30,25.10 480.90,21.60 481.50,24.00 482.30,35.60 482.90,50.70 483.50,70.00 484.00,80.00 484.40,100.00 485.00,120.00 485.50,133.00 486.00,147.00 487.00,153.50 488.50,154.50 490.00,158.00 492.00,163.00 494.00,168.00 495.00,169.00 496.00,164.00 497.00,157.00 498.50,151.00 500.00,147.00 501.50,146.00 503.00,148.00 504.00,152.00 505.00,157.00 505.20,161.00 506.50,145.80 507.00,154.00 507.50,162.00 508.00,166.00 508.50,172.00 509.20,175.50 510.20,173.00 511.00,168.00 511.80,163.00 512.50,158.00 513.20,151.00 514.00,146.50 515.00,147.50 515.80,151.00 516.50,155.50 517.20,159.50 518.00,155.00 518.80,148.00 519.50,138.50 520.20,128.00 520.90,117.10 521.50,104.90 522.20,93.20 522.80,82.10 523.30,78.60 523.90,90.90 524.70,100.80 525.10,91.50 525.90,85.10 527.10,83.30 528.20,85.10 529.40,89.10 530.60,93.80 531.70,97.90 533.20,101.40 534.40,104.30 535.60,99.60 537.00,96.10 538.70,92.60 539.90,89.10 541.10,84.50 541.90,78.10 543.00,76.00 544.00,74.60 544.50,54.00 545.10,34.60 545.70,18.40 546.30,7.60 547.00,3.90 547.70,7.60 548.30,18.40 548.90,34.60 549.50,54.00 550.00,74.60 551.00,76.00 552.10,78.10 552.90,84.50 554.10,89.10 555.30,92.60 557.00,96.10 558.40,99.60 559.60,104.30 560.80,101.40 562.30,97.90 563.40,93.80 564.60,89.10 565.80,85.10 566.90,83.30 568.10,85.10 568.90,91.50 569.30,100.80 570.10,90.90 570.70,78.60 571.20,82.10 571.80,93.20 572.50,104.90 573.10,117.10 573.80,128.00 574.50,138.50 575.20,148.00 576.00,155.00 576.80,159.50 577.50,155.50 578.20,151.00 579.00,147.50 580.00,146.50 580.80,151.00 581.50,158.00 582.20,163.00 583.00,168.00 583.80,173.00 584.80,175.50 585.50,172.00 586.00,166.00 586.50,162.00 587.00,154.00 587.50,145.80 588.80,161.00 589.00,157.00 590.00,152.00 591.00,148.00 592.50,146.00 594.00,147.00 595.50,151.00 597.00,157.00 598.00,164.00 599.00,169.00 600.00,168.00 602.00,163.00 604.00,158.00 605.50,154.50 607.00,153.50 608.00,147.00 608.50,133.00 609.00,120.00 609.60,100.00 610.00,80.00 610.50,70.00 611.10,50.70 611.70,35.60 612.50,24.00 613.10,21.60 613.70,25.10 614.30,33.30 615.00,50.20 615.40,36.80 616.40,32.10 617.30,35.00 618.10,39.10 619.30,43.80 620.10,48.40 621.30,53.70 621.50,57.50 622.30,61.50 623.10,64.50 623.80,66.30 624.70,66.80 625.60,65.50 626.40,62.50 627.10,59.00 627.80,55.40 628.60,51.30 629.40,47.30 630.30,42.60 630.90,39.10 631.70,35.00 632.70,31.50 633.60,32.10 634.10,46.70 634.40,33.30 635.00,26.30 635.60,21.60 636.20,20.50 636.80,25.10 637.60,36.80 638.20,53.70 638.70,74.00 639.30,96.70 640.00,118.00 640.50,136.50 641.00,149.00 642.00,150.00 644.00,152.50 646.00,156.00 648.00,162.00 649.50,166.00 650.50,164.00 651.50,155.00 652.50,152.00 654.00,148.00 655.00,145.00 656.50,143.50 657.80,145.00 658.80,150.00 659.50,159.00 660.20,156.00 661.00,148.00 661.70,144.00 662.00,155.00 662.80,166.00 663.50,170.00 664.20,173.50 665.00,170.00 666.00,166.00 666.70,161.00 667.20,156.50 668.00,151.50 668.80,146.50 669.50,143.50 670.80,149.50 671.60,152.00 672.50,158.00 673.50,153.00 674.20,146.00 675.00,137.50 675.50,128.00 676.00,120.00 676.60,105.60 677.40,93.00 678.00,84.00" fill="none" stroke="#000" stroke-width="1.0" stroke-linejoin="round" stroke-linecap="round"/>
<path d="M545.45,3.90a1.55,1.55 0 1,0 3.1,0a1.55,1.55 0 1,0 -3.1,0M544.63,9.72a1.55,1.55 0 1,0 3.1,0a1.55,1.55 0 1,0 -3.1,0M544.06,20.71a1.55,1.55 0 1,0 3.1,0a1.55,1.55 0 1,0 -3.1,0M543.57,34.19a1.55,1.55 0 1,0 3.1,0a1.55,1.55 0 1,0 -3.1,0M543.07,50.26a1.55,1.55 0 1,0 3.1,0a1.55,1.55 0 1,0 -3.1,0M542.59,68.67a1.55,1.55 0 1,0 3.1,0a1.55,1.55 0 1,0 -3.1,0M542.16,75.01a1.55,1.55 0 1,0 3.1,0a1.55,1.55 0 1,0 -3.1,0M541.03,76.79a1.55,1.55 0 1,0 3.1,0a1.55,1.55 0 1,0 -3.1,0M539.98,81.06a1.55,1.55 0 1,0 3.1,0a1.55,1.55 0 1,0 -3.1,0M539.25,85.64a1.55,1.55 0 1,0 3.1,0a1.55,1.55 0 1,0 -3.1,0M538.36,89.06a1.55,1.55 0 1,0 3.1,0a1.55,1.55 0 1,0 -3.1,0M537.47,91.67a1.55,1.55 0 1,0 3.1,0a1.55,1.55 0 1,0 -3.1,0M536.51,93.91a1.55,1.55 0 1,0 3.1,0a1.55,1.55 0 1,0 -3.1,0M535.48,96.05a1.55,1.55 0 1,0 3.1,0a1.55,1.55 0 1,0 -3.1,0M534.44,98.63a1.55,1.55 0 1,0 3.1,0a1.55,1.55 0 1,0 -3.1,0M533.45,101.96a1.55,1.55 0 1,0 3.1,0a1.55,1.55 0 1,0 -3.1,0M532.85,104.30a1.55,1.55 0 1,0 3.1,0a1.55,1.55 0 1,0 -3.1,0M531.56,101.19a1.55,1.55 0 1,0 3.1,0a1.55,1.55 0 1,0 -3.1,0M530.55,98.84a1.55,1.55 0 1,0 3.1,0a1.55,1.55 0 1,0 -3.1,0M529.54,95.64a1.55,1.55 0 1,0 3.1,0a1.55,1.55 0 1,0 -3.1,0M528.65,92.22a1.55,1.55 0 1,0 3.1,0a1.55,1.55 0 1,0 -3.1,0M527.76,88.80a1.55,1.55 0 1,0 3.1,0a1.55,1.55 0 1,0 -3.1,0M526.83,85.71a1.55,1.55 0 1,0 3.1,0a1.55,1.55 0 1,0 -3.1,0M525.55,83.30a1.55,1.55 0 1,0 3.1,0a1.55,1.55 0 1,0 -3.1,0M524.82,84.39a1.55,1.55 0 1,0 3.1,0a1.55,1.55 0 1,0 -3.1,0M523.71,90.21a1.55,1.55 0 1,0 3.1,0a1.55,1.55 0 1,0 -3.1,0M523.15,100.80a1.55,1.55 0 1,0 3.1,0a1.55,1.55 0 1,0 -3.1,0M522.35,90.85a1.55,1.55 0 1,0 3.1,0a1.55,1.55 0 1,0 -3.1,0M521.75,78.60a1.55,1.55 0 1,0 3.1,0a1.55,1.55 0 1,0 -3.1,0M521.26,82.05a1.55,1.55 0 1,0 3.1,0a1.55,1.55 0 1,0 -3.1,0M520.50,95.66a1.55,1.55 0 1,0 3.1,0a1.55,1.55 0 1,0 -3.1,0M519.92,105.48a1.55,1.55 0 1,0 3.1,0a1.55,1.55 0 1,0 -3.1,0M519.38,116.59a1.55,1.55 0 1,0 3.1,0a1.55,1.55 0 1,0 -3.1,0M518.83,125.22a1.55,1.55 0 1,0 3.1,0a1.55,1.55 0 1,0 -3.1,0M518.23,134.23a1.55,1.55 0 1,0 3.1,0a1.55,1.55 0 1,0 -3.1,0M517.63,142.79a1.55,1.55 0 1,0 3.1,0a1.55,1.55 0 1,0 -3.1,0M517.01,150.06a1.55,1.55 0 1,0 3.1,0a1.55,1.55 0 1,0 -3.1,0M516.31,155.80a1.55,1.55 0 1,0 3.1,0a1.55,1.55 0 1,0 -3.1,0M515.65,159.50a1.55,1.55 0 1,0 3.1,0a1.55,1.55 0 1,0 -3.1,0M514.70,153.91a1.55,1.55 0 1,0 3.1,0a1.55,1.55 0 1,0 -3.1,0M513.93,149.60a1.55,1.55 0 1,0 3.1,0a1.55,1.55 0 1,0 -3.1,0M513.07,147.12a1.55,1.55 0 1,0 3.1,0a1.55,1.55 0 1,0 -3.1,0M512.45,146.50a1.55,1.55 0 1,0 3.1,0a1.55,1.55 0 1,0 -3.1,0M511.07,156.79a1.55,1.55 0 1,0 3.1,0a1.55,1.55 0 1,0 -3.1,0M510.39,161.99a1.55,1.55 0 1,0 3.1,0a1.55,1.55 0 1,0 -3.1,0M509.64,166.81a1.55,1.55 0 1,0 3.1,0a1.55,1.55 0 1,0 -3.1,0M508.86,171.69a1.55,1.55 0 1,0 3.1,0a1.55,1.55 0 1,0 -3.1,0M507.65,175.50a1.55,1.55 0 1,0 3.1,0a1.55,1.55 0 1,0 -3.1,0M507.09,172.69a1.55,1.55 0 1,0 3.1,0a1.55,1.55 0 1,0 -3.1,0M506.26,164.46a1.55,1.55 0 1,0 3.1,0a1.55,1.55 0 1,0 -3.1,0M505.53,155.30a1.55,1.55 0 1,0 3.1,0a1.55,1.55 0 1,0 -3.1,0M504.95,145.80a1.55,1.55 0 1,0 3.1,0a1.55,1.55 0 1,0 -3.1,0M504.29,153.47a1.55,1.55 0 1,0 3.1,0a1.55,1.55 0 1,0 -3.1,0M503.65,161.00a1.55,1.55 0 1,0 3.1,0a1.55,1.55 0 1,0 -3.1,0M503.10,155.23a1.55,1.55 0 1,0 3.1,0a1.55,1.55 0 1,0 -3.1,0M502.27,151.26a1.55,1.55 0 1,0 3.1,0a1.55,1.55 0 1,0 -3.1,0M501.38,147.91a1.55,1.55 0 1,0 3.1,0a1.55,1.55 0 1,0 -3.1,0M499.95,146.00a1.55,1.55 0 1,0 3.1,0a1.55,1.55 0 1,0 -3.1,0M499.12,146.56a1.55,1.55 0 1,0 3.1,0a1.55,1.55 0 1,0 -3.1,0M497.85,148.61a1.55,1.55 0 1,0 3.1,0a1.55,1.55 0 1,0 -3.1,0M496.87,151.32a1.55,1.55 0 1,0 3.1,0a1.55,1.55 0 1,0 -3.1,0M495.99,154.84a1.55,1.55 0 1,0 3.1,0a1.55,1.55 0 1,0 -3.1,0M495.11,159.40a1.55,1.55 0 1,0 3.1,0a1.55,1.55 0 1,0 -3.1,0M494.35,164.49a1.55,1.55 0 1,0 3.1,0a1.55,1.55 0 1,0 -3.1,0M493.45,169.00a1.55,1.55 0 1,0 3.1,0a1.55,1.55 0 1,0 -3.1,0M492.69,168.24a1.55,1.55 0 1,0 3.1,0a1.55,1.55 0 1,0 -3.1,0M491.50,165.62a1.55,1.55 0 1,0 3.1,0a1.55,1.55 0 1,0 -3.1,0M490.51,163.14a1.55,1.55 0 1,0 3.1,0a1.55,1.55 0 1,0 -3.1,0M489.51,160.66a1.55,1.55 0 1,0 3.1,0a1.55,1.55 0 1,0 -3.1,0M488.52,158.18a1.55,1.55 0 1,0 3.1,0a1.55,1.55 0 1,0 -3.1,0M487.53,155.85a1.55,1.55 0 1,0 3.1,0a1.55,1.55 0 1,0 -3.1,0M486.52,154.21a1.55,1.55 0 1,0 3.1,0a1.55,1.55 0 1,0 -3.1,0M485.25,152.23a1.55,1.55 0 1,0 3.1,0a1.55,1.55 0 1,0 -3.1,0M484.48,147.21a1.55,1.55 0 1,0 3.1,0a1.55,1.55 0 1,0 -3.1,0M483.71,126.79a1.55,1.55 0 1,0 3.1,0a1.55,1.55 0 1,0 -3.1,0M483.21,111.85a1.55,1.55 0 1,0 3.1,0a1.55,1.55 0 1,0 -3.1,0M482.74,94.43a1.55,1.55 0 1,0 3.1,0a1.55,1.55 0 1,0 -3.1,0M482.33,77.58a1.55,1.55 0 1,0 3.1,0a1.55,1.55 0 1,0 -3.1,0M481.78,64.52a1.55,1.55 0 1,0 3.1,0a1.55,1.55 0 1,0 -3.1,0M481.31,49.62a1.55,1.55 0 1,0 3.1,0a1.55,1.55 0 1,0 -3.1,0M480.80,36.77a1.55,1.55 0 1,0 3.1,0a1.55,1.55 0 1,0 -3.1,0M480.29,28.87a1.55,1.55 0 1,0 3.1,0a1.55,1.55 0 1,0 -3.1,0M479.35,21.60a1.55,1.55 0 1,0 3.1,0a1.55,1.55 0 1,0 -3.1,0M478.80,24.83a1.55,1.55 0 1,0 3.1,0a1.55,1.55 0 1,0 -3.1,0M478.00,36.90a1.55,1.55 0 1,0 3.1,0a1.55,1.55 0 1,0 -3.1,0M477.45,50.20a1.55,1.55 0 1,0 3.1,0a1.55,1.55 0 1,0 -3.1,0M476.97,36.40a1.55,1.55 0 1,0 3.1,0a1.55,1.55 0 1,0 -3.1,0M476.05,32.10a1.55,1.55 0 1,0 3.1,0a1.55,1.55 0 1,0 -3.1,0M475.28,34.59a1.55,1.55 0 1,0 3.1,0a1.55,1.55 0 1,0 -3.1,0M474.34,39.12a1.55,1.55 0 1,0 3.1,0a1.55,1.55 0 1,0 -3.1,0M473.46,42.60a1.55,1.55 0 1,0 3.1,0a1.55,1.55 0 1,0 -3.1,0M472.57,47.13a1.55,1.55 0 1,0 3.1,0a1.55,1.55 0 1,0 -3.1,0M471.77,50.95a1.55,1.55 0 1,0 3.1,0a1.55,1.55 0 1,0 -3.1,0M470.91,57.69a1.55,1.55 0 1,0 3.1,0a1.55,1.55 0 1,0 -3.1,0M470.08,61.75a1.55,1.55 0 1,0 3.1,0a1.55,1.55 0 1,0 -3.1,0M469.19,64.92a1.55,1.55 0 1,0 3.1,0a1.55,1.55 0 1,0 -3.1,0M467.75,66.80a1.55,1.55 0 1,0 3.1,0a1.55,1.55 0 1,0 -3.1,0M466.90,65.58a1.55,1.55 0 1,0 3.1,0a1.55,1.55 0 1,0 -3.1,0M465.79,61.18a1.55,1.55 0 1,0 3.1,0a1.55,1.55 0 1,0 -3.1,0M464.96,56.97a1.55,1.55 0 1,0 3.1,0a1.55,1.55 0 1,0 -3.1,0M464.13,52.75a1.55,1.55 0 1,0 3.1,0a1.55,1.55 0 1,0 -3.1,0M463.31,48.59a1.55,1.55 0 1,0 3.1,0a1.55,1.55 0 1,0 -3.1,0M462.48,44.31a1.55,1.55 0 1,0 3.1,0a1.55,1.55 0 1,0 -3.1,0M461.66,39.72a1.55,1.55 0 1,0 3.1,0a1.55,1.55 0 1,0 -3.1,0M460.86,35.57a1.55,1.55 0 1,0 3.1,0a1.55,1.55 0 1,0 -3.1,0M459.75,31.50a1.55,1.55 0 1,0 3.1,0a1.55,1.55 0 1,0 -3.1,0M459.12,31.92a1.55,1.55 0 1,0 3.1,0a1.55,1.55 0 1,0 -3.1,0M458.35,46.70a1.55,1.55 0 1,0 3.1,0a1.55,1.55 0 1,0 -3.1,0M457.21,24.39a1.55,1.55 0 1,0 3.1,0a1.55,1.55 0 1,0 -3.1,0M456.25,20.50a1.55,1.55 0 1,0 3.1,0a1.55,1.55 0 1,0 -3.1,0M455.41,28.58a1.55,1.55 0 1,0 3.1,0a1.55,1.55 0 1,0 -3.1,0M454.81,38.02a1.55,1.55 0 1,0 3.1,0a1.55,1.55 0 1,0 -3.1,0M454.31,51.91a1.55,1.55 0 1,0 3.1,0a1.55,1.55 0 1,0 -3.1,0M453.82,71.12a1.55,1.55 0 1,0 3.1,0a1.55,1.55 0 1,0 -3.1,0M453.38,87.90a1.55,1.55 0 1,0 3.1,0a1.55,1.55 0 1,0 -3.1,0M452.93,103.27a1.55,1.55 0 1,0 3.1,0a1.55,1.55 0 1,0 -3.1,0M452.45,117.90a1.55,1.55 0 1,0 3.1,0a1.55,1.55 0 1,0 -3.1,0M451.97,135.66a1.55,1.55 0 1,0 3.1,0a1.55,1.55 0 1,0 -3.1,0M451.52,147.23a1.55,1.55 0 1,0 3.1,0a1.55,1.55 0 1,0 -3.1,0M451.01,149.44a1.55,1.55 0 1,0 3.1,0a1.55,1.55 0 1,0 -3.1,0M449.82,150.79a1.55,1.55 0 1,0 3.1,0a1.55,1.55 0 1,0 -3.1,0M448.67,152.23a1.55,1.55 0 1,0 3.1,0a1.55,1.55 0 1,0 -3.1,0M447.52,154.13a1.55,1.55 0 1,0 3.1,0a1.55,1.55 0 1,0 -3.1,0M446.45,156.01a1.55,1.55 0 1,0 3.1,0a1.55,1.55 0 1,0 -3.1,0M445.50,158.86a1.55,1.55 0 1,0 3.1,0a1.55,1.55 0 1,0 -3.1,0M444.55,161.71a1.55,1.55 0 1,0 3.1,0a1.55,1.55 0 1,0 -3.1,0M443.60,164.27a1.55,1.55 0 1,0 3.1,0a1.55,1.55 0 1,0 -3.1,0M442.95,166.00a1.55,1.55 0 1,0 3.1,0a1.55,1.55 0 1,0 -3.1,0M441.58,160.64a1.55,1.55 0 1,0 3.1,0a1.55,1.55 0 1,0 -3.1,0M440.88,154.78a1.55,1.55 0 1,0 3.1,0a1.55,1.55 0 1,0 -3.1,0M439.93,151.94a1.55,1.55 0 1,0 3.1,0a1.55,1.55 0 1,0 -3.1,0M438.95,149.33a1.55,1.55 0 1,0 3.1,0a1.55,1.55 0 1,0 -3.1,0M437.97,146.57a1.55,1.55 0 1,0 3.1,0a1.55,1.55 0 1,0 -3.1,0M437.02,144.57a1.55,1.55 0 1,0 3.1,0a1.55,1.55 0 1,0 -3.1,0M435.95,143.50a1.55,1.55 0 1,0 3.1,0a1.55,1.55 0 1,0 -3.1,0M434.67,144.98a1.55,1.55 0 1,0 3.1,0a1.55,1.55 0 1,0 -3.1,0M433.50,151.92a1.55,1.55 0 1,0 3.1,0a1.55,1.55 0 1,0 -3.1,0M432.95,159.00a1.55,1.55 0 1,0 3.1,0a1.55,1.55 0 1,0 -3.1,0M432.00,153.55a1.55,1.55 0 1,0 3.1,0a1.55,1.55 0 1,0 -3.1,0M431.32,147.29a1.55,1.55 0 1,0 3.1,0a1.55,1.55 0 1,0 -3.1,0M430.75,144.00a1.55,1.55 0 1,0 3.1,0a1.55,1.55 0 1,0 -3.1,0M430.07,160.20a1.55,1.55 0 1,0 3.1,0a1.55,1.55 0 1,0 -3.1,0M429.45,167.12a1.55,1.55 0 1,0 3.1,0a1.55,1.55 0 1,0 -3.1,0M428.25,173.50a1.55,1.55 0 1,0 3.1,0a1.55,1.55 0 1,0 -3.1,0M427.82,171.64a1.55,1.55 0 1,0 3.1,0a1.55,1.55 0 1,0 -3.1,0M426.96,168.05a1.55,1.55 0 1,0 3.1,0a1.55,1.55 0 1,0 -3.1,0M426.08,163.36a1.55,1.55 0 1,0 3.1,0a1.55,1.55 0 1,0 -3.1,0M425.33,157.22a1.55,1.55 0 1,0 3.1,0a1.55,1.55 0 1,0 -3.1,0M424.63,152.62a1.55,1.55 0 1,0 3.1,0a1.55,1.55 0 1,0 -3.1,0M423.85,147.74a1.55,1.55 0 1,0 3.1,0a1.55,1.55 0 1,0 -3.1,0M422.95,143.50a1.55,1.55 0 1,0 3.1,0a1.55,1.55 0 1,0 -3.1,0M422.20,146.95a1.55,1.55 0 1,0 3.1,0a1.55,1.55 0 1,0 -3.1,0M421.35,150.43a1.55,1.55 0 1,0 3.1,0a1.55,1.55 0 1,0 -3.1,0M420.41,154.91a1.55,1.55 0 1,0 3.1,0a1.55,1.55 0 1,0 -3.1,0M419.95,158.00a1.55,1.55 0 1,0 3.1,0a1.55,1.55 0 1,0 -3.1,0M418.82,151.68a1.55,1.55 0 1,0 3.1,0a1.55,1.55 0 1,0 -3.1,0M418.14,144.81a1.55,1.55 0 1,0 3.1,0a1.55,1.55 0 1,0 -3.1,0M417.47,137.71a1.55,1.55 0 1,0 3.1,0a1.55,1.55 0 1,0 -3.1,0M416.80,125.64a1.55,1.55 0 1,0 3.1,0a1.55,1.55 0 1,0 -3.1,0M416.21,114.33a1.55,1.55 0 1,0 3.1,0a1.55,1.55 0 1,0 -3.1,0M415.70,103.16a1.55,1.55 0 1,0 3.1,0a1.55,1.55 0 1,0 -3.1,0M415.10,93.84a1.55,1.55 0 1,0 3.1,0a1.55,1.55 0 1,0 -3.1,0M414.45,84.00a1.55,1.55 0 1,0 3.1,0a1.55,1.55 0 1,0 -3.1,0M546.27,9.72a1.55,1.55 0 1,0 3.1,0a1.55,1.55 0 1,0 -3.1,0M546.84,20.71a1.55,1.55 0 1,0 3.1,0a1.55,1.55 0 1,0 -3.1,0M547.33,34.19a1.55,1.55 0 1,0 3.1,0a1.55,1.55 0 1,0 -3.1,0M547.83,50.26a1.55,1.55 0 1,0 3.1,0a1.55,1.55 0 1,0 -3.1,0M548.31,68.67a1.55,1.55 0 1,0 3.1,0a1.55,1.55 0 1,0 -3.1,0M548.74,75.01a1.55,1.55 0 1,0 3.1,0a1.55,1.55 0 1,0 -3.1,0M549.87,76.79a1.55,1.55 0 1,0 3.1,0a1.55,1.55 0 1,0 -3.1,0M550.92,81.06a1.55,1.55 0 1,0 3.1,0a1.55,1.55 0 1,0 -3.1,0M551.65,85.64a1.55,1.55 0 1,0 3.1,0a1.55,1.55 0 1,0 -3.1,0M552.54,89.06a1.55,1.55 0 1,0 3.1,0a1.55,1.55 0 1,0 -3.1,0M553.43,91.67a1.55,1.55 0 1,0 3.1,0a1.55,1.55 0 1,0 -3.1,0M554.39,93.91a1.55,1.55 0 1,0 3.1,0a1.55,1.55 0 1,0 -3.1,0M555.42,96.05a1.55,1.55 0 1,0 3.1,0a1.55,1.55 0 1,0 -3.1,0M556.46,98.63a1.55,1.55 0 1,0 3.1,0a1.55,1.55 0 1,0 -3.1,0M557.45,101.96a1.55,1.55 0 1,0 3.1,0a1.55,1.55 0 1,0 -3.1,0M558.05,104.30a1.55,1.55 0 1,0 3.1,0a1.55,1.55 0 1,0 -3.1,0M559.34,101.19a1.55,1.55 0 1,0 3.1,0a1.55,1.55 0 1,0 -3.1,0M560.35,98.84a1.55,1.55 0 1,0 3.1,0a1.55,1.55 0 1,0 -3.1,0M561.36,95.64a1.55,1.55 0 1,0 3.1,0a1.55,1.55 0 1,0 -3.1,0M562.25,92.22a1.55,1.55 0 1,0 3.1,0a1.55,1.55 0 1,0 -3.1,0M563.14,88.80a1.55,1.55 0 1,0 3.1,0a1.55,1.55 0 1,0 -3.1,0M564.07,85.71a1.55,1.55 0 1,0 3.1,0a1.55,1.55 0 1,0 -3.1,0M565.35,83.30a1.55,1.55 0 1,0 3.1,0a1.55,1.55 0 1,0 -3.1,0M566.08,84.39a1.55,1.55 0 1,0 3.1,0a1.55,1.55 0 1,0 -3.1,0M567.19,90.21a1.55,1.55 0 1,0 3.1,0a1.55,1.55 0 1,0 -3.1,0M567.75,100.80a1.55,1.55 0 1,0 3.1,0a1.55,1.55 0 1,0 -3.1,0M568.55,90.85a1.55,1.55 0 1,0 3.1,0a1.55,1.55 0 1,0 -3.1,0M569.15,78.60a1.55,1.55 0 1,0 3.1,0a1.55,1.55 0 1,0 -3.1,0M569.64,82.05a1.55,1.55 0 1,0 3.1,0a1.55,1.55 0 1,0 -3.1,0M570.40,95.66a1.55,1.55 0 1,0 3.1,0a1.55,1.55 0 1,0 -3.1,0M570.98,105.48a1.55,1.55 0 1,0 3.1,0a1.55,1.55 0 1,0 -3.1,0M571.52,116.59a1.55,1.55 0 1,0 3.1,0a1.55,1.55 0 1,0 -3.1,0M572.07,125.22a1.55,1.55 0 1,0 3.1,0a1.55,1.55 0 1,0 -3.1,0M572.67,134.23a1.55,1.55 0 1,0 3.1,0a1.55,1.55 0 1,0 -3.1,0M573.27,142.79a1.55,1.55 0 1,0 3.1,0a1.55,1.55 0 1,0 -3.1,0M573.89,150.06a1.55,1.55 0 1,0 3.1,0a1.55,1.55 0 1,0 -3.1,0M574.59,155.80a1.55,1.55 0 1,0 3.1,0a1.55,1.55 0 1,0 -3.1,0M575.25,159.50a1.55,1.55 0 1,0 3.1,0a1.55,1.55 0 1,0 -3.1,0M576.20,153.91a1.55,1.55 0 1,0 3.1,0a1.55,1.55 0 1,0 -3.1,0M576.97,149.60a1.55,1.55 0 1,0 3.1,0a1.55,1.55 0 1,0 -3.1,0M577.83,147.12a1.55,1.55 0 1,0 3.1,0a1.55,1.55 0 1,0 -3.1,0M578.45,146.50a1.55,1.55 0 1,0 3.1,0a1.55,1.55 0 1,0 -3.1,0M579.83,156.79a1.55,1.55 0 1,0 3.1,0a1.55,1.55 0 1,0 -3.1,0M580.51,161.99a1.55,1.55 0 1,0 3.1,0a1.55,1.55 0 1,0 -3.1,0M581.26,166.81a1.55,1.55 0 1,0 3.1,0a1.55,1.55 0 1,0 -3.1,0M582.04,171.69a1.55,1.55 0 1,0 3.1,0a1.55,1.55 0 1,0 -3.1,0M583.25,175.50a1.55,1.55 0 1,0 3.1,0a1.55,1.55 0 1,0 -3.1,0M583.81,172.69a1.55,1.55 0 1,0 3.1,0a1.55,1.55 0 1,0 -3.1,0M584.64,164.46a1.55,1.55 0 1,0 3.1,0a1.55,1.55 0 1,0 -3.1,0M585.37,155.30a1.55,1.55 0 1,0 3.1,0a1.55,1.55 0 1,0 -3.1,0M585.95,145.80a1.55,1.55 0 1,0 3.1,0a1.55,1.55 0 1,0 -3.1,0M586.61,153.47a1.55,1.55 0 1,0 3.1,0a1.55,1.55 0 1,0 -3.1,0M587.25,161.00a1.55,1.55 0 1,0 3.1,0a1.55,1.55 0 1,0 -3.1,0M587.80,155.23a1.55,1.55 0 1,0 3.1,0a1.55,1.55 0 1,0 -3.1,0M588.63,151.26a1.55,1.55 0 1,0 3.1,0a1.55,1.55 0 1,0 -3.1,0M589.52,147.91a1.55,1.55 0 1,0 3.1,0a1.55,1.55 0 1,0 -3.1,0M590.95,146.00a1.55,1.55 0 1,0 3.1,0a1.55,1.55 0 1,0 -3.1,0M591.78,146.56a1.55,1.55 0 1,0 3.1,0a1.55,1.55 0 1,0 -3.1,0M593.05,148.61a1.55,1.55 0 1,0 3.1,0a1.55,1.55 0 1,0 -3.1,0M594.03,151.32a1.55,1.55 0 1,0 3.1,0a1.55,1.55 0 1,0 -3.1,0M594.91,154.84a1.55,1.55 0 1,0 3.1,0a1.55,1.55 0 1,0 -3.1,0M595.79,159.40a1.55,1.55 0 1,0 3.1,0a1.55,1.55 0 1,0 -3.1,0M596.55,164.49a1.55,1.55 0 1,0 3.1,0a1.55,1.55 0 1,0 -3.1,0M597.45,169.00a1.55,1.55 0 1,0 3.1,0a1.55,1.55 0 1,0 -3.1,0M598.21,168.24a1.55,1.55 0 1,0 3.1,0a1.55,1.55 0 1,0 -3.1,0M599.40,165.62a1.55,1.55 0 1,0 3.1,0a1.55,1.55 0 1,0 -3.1,0M600.39,163.14a1.55,1.55 0 1,0 3.1,0a1.55,1.55 0 1,0 -3.1,0M601.39,160.66a1.55,1.55 0 1,0 3.1,0a1.55,1.55 0 1,0 -3.1,0M602.38,158.18a1.55,1.55 0 1,0 3.1,0a1.55,1.55 0 1,0 -3.1,0M603.37,155.85a1.55,1.55 0 1,0 3.1,0a1.55,1.55 0 1,0 -3.1,0M604.38,154.21a1.55,1.55 0 1,0 3.1,0a1.55,1.55 0 1,0 -3.1,0M605.65,152.23a1.55,1.55 0 1,0 3.1,0a1.55,1.55 0 1,0 -3.1,0M606.42,147.21a1.55,1.55 0 1,0 3.1,0a1.55,1.55 0 1,0 -3.1,0M607.19,126.79a1.55,1.55 0 1,0 3.1,0a1.55,1.55 0 1,0 -3.1,0M607.69,111.85a1.55,1.55 0 1,0 3.1,0a1.55,1.55 0 1,0 -3.1,0M608.16,94.43a1.55,1.55 0 1,0 3.1,0a1.55,1.55 0 1,0 -3.1,0M608.57,77.58a1.55,1.55 0 1,0 3.1,0a1.55,1.55 0 1,0 -3.1,0M609.12,64.52a1.55,1.55 0 1,0 3.1,0a1.55,1.55 0 1,0 -3.1,0M609.59,49.62a1.55,1.55 0 1,0 3.1,0a1.55,1.55 0 1,0 -3.1,0M610.10,36.77a1.55,1.55 0 1,0 3.1,0a1.55,1.55 0 1,0 -3.1,0M610.61,28.87a1.55,1.55 0 1,0 3.1,0a1.55,1.55 0 1,0 -3.1,0M611.55,21.60a1.55,1.55 0 1,0 3.1,0a1.55,1.55 0 1,0 -3.1,0M612.10,24.83a1.55,1.55 0 1,0 3.1,0a1.55,1.55 0 1,0 -3.1,0M612.90,36.90a1.55,1.55 0 1,0 3.1,0a1.55,1.55 0 1,0 -3.1,0M613.45,50.20a1.55,1.55 0 1,0 3.1,0a1.55,1.55 0 1,0 -3.1,0M613.93,36.40a1.55,1.55 0 1,0 3.1,0a1.55,1.55 0 1,0 -3.1,0M614.85,32.10a1.55,1.55 0 1,0 3.1,0a1.55,1.55 0 1,0 -3.1,0M615.62,34.59a1.55,1.55 0 1,0 3.1,0a1.55,1.55 0 1,0 -3.1,0M616.56,39.12a1.55,1.55 0 1,0 3.1,0a1.55,1.55 0 1,0 -3.1,0M617.44,42.60a1.55,1.55 0 1,0 3.1,0a1.55,1.55 0 1,0 -3.1,0M618.33,47.13a1.55,1.55 0 1,0 3.1,0a1.55,1.55 0 1,0 -3.1,0M619.13,50.95a1.55,1.55 0 1,0 3.1,0a1.55,1.55 0 1,0 -3.1,0M619.99,57.69a1.55,1.55 0 1,0 3.1,0a1.55,1.55 0 1,0 -3.1,0M620.82,61.75a1.55,1.55 0 1,0 3.1,0a1.55,1.55 0 1,0 -3.1,0M621.71,64.92a1.55,1.55 0 1,0 3.1,0a1.55,1.55 0 1,0 -3.1,0M623.15,66.80a1.55,1.55 0 1,0 3.1,0a1.55,1.55 0 1,0 -3.1,0M624.00,65.58a1.55,1.55 0 1,0 3.1,0a1.55,1.55 0 1,0 -3.1,0M625.11,61.18a1.55,1.55 0 1,0 3.1,0a1.55,1.55 0 1,0 -3.1,0M625.94,56.97a1.55,1.55 0 1,0 3.1,0a1.55,1.55 0 1,0 -3.1,0M626.77,52.75a1.55,1.55 0 1,0 3.1,0a1.55,1.55 0 1,0 -3.1,0M627.59,48.59a1.55,1.55 0 1,0 3.1,0a1.55,1.55 0 1,0 -3.1,0M628.42,44.31a1.55,1.55 0 1,0 3.1,0a1.55,1.55 0 1,0 -3.1,0M629.24,39.72a1.55,1.55 0 1,0 3.1,0a1.55,1.55 0 1,0 -3.1,0M630.04,35.57a1.55,1.55 0 1,0 3.1,0a1.55,1.55 0 1,0 -3.1,0M631.15,31.50a1.55,1.55 0 1,0 3.1,0a1.55,1.55 0 1,0 -3.1,0M631.78,31.92a1.55,1.55 0 1,0 3.1,0a1.55,1.55 0 1,0 -3.1,0M632.55,46.70a1.55,1.55 0 1,0 3.1,0a1.55,1.55 0 1,0 -3.1,0M633.69,24.39a1.55,1.55 0 1,0 3.1,0a1.55,1.55 0 1,0 -3.1,0M634.65,20.50a1.55,1.55 0 1,0 3.1,0a1.55,1.55 0 1,0 -3.1,0M635.49,28.58a1.55,1.55 0 1,0 3.1,0a1.55,1.55 0 1,0 -3.1,0M636.09,38.02a1.55,1.55 0 1,0 3.1,0a1.55,1.55 0 1,0 -3.1,0M636.59,51.91a1.55,1.55 0 1,0 3.1,0a1.55,1.55 0 1,0 -3.1,0M637.08,71.12a1.55,1.55 0 1,0 3.1,0a1.55,1.55 0 1,0 -3.1,0M637.52,87.90a1.55,1.55 0 1,0 3.1,0a1.55,1.55 0 1,0 -3.1,0M637.97,103.27a1.55,1.55 0 1,0 3.1,0a1.55,1.55 0 1,0 -3.1,0M638.45,117.90a1.55,1.55 0 1,0 3.1,0a1.55,1.55 0 1,0 -3.1,0M638.93,135.66a1.55,1.55 0 1,0 3.1,0a1.55,1.55 0 1,0 -3.1,0M639.38,147.23a1.55,1.55 0 1,0 3.1,0a1.55,1.55 0 1,0 -3.1,0M639.89,149.44a1.55,1.55 0 1,0 3.1,0a1.55,1.55 0 1,0 -3.1,0M641.08,150.79a1.55,1.55 0 1,0 3.1,0a1.55,1.55 0 1,0 -3.1,0M642.23,152.23a1.55,1.55 0 1,0 3.1,0a1.55,1.55 0 1,0 -3.1,0M643.38,154.13a1.55,1.55 0 1,0 3.1,0a1.55,1.55 0 1,0 -3.1,0M644.45,156.01a1.55,1.55 0 1,0 3.1,0a1.55,1.55 0 1,0 -3.1,0M645.40,158.86a1.55,1.55 0 1,0 3.1,0a1.55,1.55 0 1,0 -3.1,0M646.35,161.71a1.55,1.55 0 1,0 3.1,0a1.55,1.55 0 1,0 -3.1,0M647.30,164.27a1.55,1.55 0 1,0 3.1,0a1.55,1.55 0 1,0 -3.1,0M647.95,166.00a1.55,1.55 0 1,0 3.1,0a1.55,1.55 0 1,0 -3.1,0M649.32,160.64a1.55,1.55 0 1,0 3.1,0a1.55,1.55 0 1,0 -3.1,0M650.02,154.78a1.55,1.55 0 1,0 3.1,0a1.55,1.55 0 1,0 -3.1,0M650.97,151.94a1.55,1.55 0 1,0 3.1,0a1.55,1.55 0 1,0 -3.1,0M651.95,149.33a1.55,1.55 0 1,0 3.1,0a1.55,1.55 0 1,0 -3.1,0M652.93,146.57a1.55,1.55 0 1,0 3.1,0a1.55,1.55 0 1,0 -3.1,0M653.88,144.57a1.55,1.55 0 1,0 3.1,0a1.55,1.55 0 1,0 -3.1,0M654.95,143.50a1.55,1.55 0 1,0 3.1,0a1.55,1.55 0 1,0 -3.1,0M656.23,144.98a1.55,1.55 0 1,0 3.1,0a1.55,1.55 0 1,0 -3.1,0M657.40,151.92a1.55,1.55 0 1,0 3.1,0a1.55,1.55 0 1,0 -3.1,0M657.95,159.00a1.55,1.55 0 1,0 3.1,0a1.55,1.55 0 1,0 -3.1,0M658.90,153.55a1.55,1.55 0 1,0 3.1,0a1.55,1.55 0 1,0 -3.1,0M659.58,147.29a1.55,1.55 0 1,0 3.1,0a1.55,1.55 0 1,0 -3.1,0M660.15,144.00a1.55,1.55 0 1,0 3.1,0a1.55,1.55 0 1,0 -3.1,0M660.83,160.20a1.55,1.55 0 1,0 3.1,0a1.55,1.55 0 1,0 -3.1,0M661.45,167.12a1.55,1.55 0 1,0 3.1,0a1.55,1.55 0 1,0 -3.1,0M662.65,173.50a1.55,1.55 0 1,0 3.1,0a1.55,1.55 0 1,0 -3.1,0M663.08,171.64a1.55,1.55 0 1,0 3.1,0a1.55,1.55 0 1,0 -3.1,0M663.94,168.05a1.55,1.55 0 1,0 3.1,0a1.55,1.55 0 1,0 -3.1,0M664.82,163.36a1.55,1.55 0 1,0 3.1,0a1.55,1.55 0 1,0 -3.1,0M665.57,157.22a1.55,1.55 0 1,0 3.1,0a1.55,1.55 0 1,0 -3.1,0M666.27,152.62a1.55,1.55 0 1,0 3.1,0a1.55,1.55 0 1,0 -3.1,0M667.05,147.74a1.55,1.55 0 1,0 3.1,0a1.55,1.55 0 1,0 -3.1,0M667.95,143.50a1.55,1.55 0 1,0 3.1,0a1.55,1.55 0 1,0 -3.1,0M668.70,146.95a1.55,1.55 0 1,0 3.1,0a1.55,1.55 0 1,0 -3.1,0M669.55,150.43a1.55,1.55 0 1,0 3.1,0a1.55,1.55 0 1,0 -3.1,0M670.49,154.91a1.55,1.55 0 1,0 3.1,0a1.55,1.55 0 1,0 -3.1,0M670.95,158.00a1.55,1.55 0 1,0 3.1,0a1.55,1.55 0 1,0 -3.1,0M672.08,151.68a1.55,1.55 0 1,0 3.1,0a1.55,1.55 0 1,0 -3.1,0M672.76,144.81a1.55,1.55 0 1,0 3.1,0a1.55,1.55 0 1,0 -3.1,0M673.43,137.71a1.55,1.55 0 1,0 3.1,0a1.55,1.55 0 1,0 -3.1,0M674.10,125.64a1.55,1.55 0 1,0 3.1,0a1.55,1.55 0 1,0 -3.1,0M674.69,114.33a1.55,1.55 0 1,0 3.1,0a1.55,1.55 0 1,0 -3.1,0M675.20,103.16a1.55,1.55 0 1,0 3.1,0a1.55,1.55 0 1,0 -3.1,0M675.80,93.84a1.55,1.55 0 1,0 3.1,0a1.55,1.55 0 1,0 -3.1,0M676.45,84.00a1.55,1.55 0 1,0 3.1,0a1.55,1.55 0 1,0 -3.1,0" fill="#000"/>
</g>
<g style="font-family:'Liberation Sans',sans-serif;font-size:11.7px" fill="#000" stroke="#000" stroke-width="0.25">
<path d="M65.75,322.0H328.3V526.3H65.75Z" fill="none" stroke="#262626" stroke-width="0.8"/>
<path d="M65.75,322.00h2.7M328.3,322.00h-2.7M65.75,351.19h2.7M328.3,351.19h-2.7M65.75,380.37h2.7M328.3,380.37h-2.7M65.75,409.56h2.7M328.3,409.56h-2.7M65.75,438.74h2.7M328.3,438.74h-2.7M65.75,467.93h2.7M328.3,467.93h-2.7M65.75,497.11h2.7M328.3,497.11h-2.7M65.75,526.30h2.7M328.3,526.30h-2.7M197.025,526.3v-2.7M197.025,322.0v2.7" fill="none" stroke="#262626" stroke-width="0.8"/>
<text transform="translate(58.0,326.40) scale(1,1.03)" text-anchor="end">2.304</text>
<text transform="translate(58.0,355.59) scale(1,1.03)" text-anchor="end">2.302</text>
<text transform="translate(58.0,384.77) scale(1,1.03)" text-anchor="end">2.3</text>
<text transform="translate(58.0,413.96) scale(1,1.03)" text-anchor="end">2.298</text>
<text transform="translate(58.0,443.14) scale(1,1.03)" text-anchor="end">2.296</text>
<text transform="translate(58.0,472.33) scale(1,1.03)" text-anchor="end">2.294</text>
<text transform="translate(58.0,501.51) scale(1,1.03)" text-anchor="end">2.292</text>
<text transform="translate(58.0,530.70) scale(1,1.03)" text-anchor="end">2.29</text>
<text transform="translate(65.75,542.70) scale(1,1.03)" text-anchor="middle">-50</text>
<text transform="translate(197.025,542.70) scale(1,1.03)" text-anchor="middle">0</text>
<text transform="translate(328.3,542.70) scale(1,1.03)" text-anchor="middle">50</text>
</g>
<g clip-path="url(#c3)">
<path d="M65.70,458.00C65.90,459.17 66.48,462.75 66.90,465.00C67.32,467.25 67.77,469.45 68.20,471.50C68.63,473.55 69.03,475.50 69.50,477.30C69.97,479.10 70.50,480.85 71.00,482.30C71.50,483.75 72.00,484.83 72.50,486.00C73.00,487.17 73.50,488.30 74.00,489.30C74.50,490.30 74.95,491.17 75.50,492.00C76.05,492.83 76.72,493.80 77.30,494.30C77.88,494.80 78.47,495.38 79.00,495.00C79.53,494.62 80.00,493.75 80.50,492.00C81.00,490.25 81.42,486.58 82.00,484.50C82.58,482.42 83.20,480.70 84.00,479.50C84.80,478.30 86.02,477.50 86.80,477.30C87.58,477.10 88.13,477.72 88.70,478.30C89.27,478.88 89.57,479.60 90.20,480.80C90.83,482.00 91.77,484.20 92.50,485.50C93.23,486.80 93.95,488.52 94.60,488.60C95.25,488.68 95.83,487.02 96.40,486.00C96.97,484.98 97.50,483.75 98.00,482.50C98.50,481.25 98.97,479.80 99.40,478.50C99.83,477.20 100.10,476.05 100.60,474.70C101.10,473.35 101.97,472.85 102.40,470.40C102.83,467.95 102.97,465.48 103.20,460.00C103.43,454.52 103.53,445.83 103.80,437.50C104.07,429.17 104.50,417.92 104.80,410.00C105.10,402.08 105.33,396.67 105.60,390.00C105.87,383.33 106.17,375.00 106.40,370.00C106.63,365.00 106.78,363.33 107.00,360.00C107.22,356.67 107.42,352.22 107.70,350.00C107.98,347.78 108.43,347.03 108.70,346.70C108.97,346.37 109.08,347.23 109.30,348.00C109.52,348.77 109.72,350.87 110.00,351.30C110.28,351.73 110.57,350.38 111.00,350.60C111.43,350.82 112.00,351.70 112.60,352.60C113.20,353.50 113.98,354.77 114.60,356.00C115.22,357.23 115.73,358.67 116.30,360.00C116.87,361.33 117.50,363.17 118.00,364.00C118.50,364.83 118.87,365.12 119.30,365.00C119.73,364.88 120.15,364.25 120.60,363.30C121.05,362.35 121.55,360.52 122.00,359.30C122.45,358.08 122.80,357.00 123.30,356.00C123.80,355.00 124.45,354.03 125.00,353.30C125.55,352.57 126.05,351.98 126.60,351.60C127.15,351.22 127.85,351.50 128.30,351.00C128.75,350.50 129.02,349.15 129.30,348.60C129.58,348.05 129.78,347.47 130.00,347.70C130.22,347.93 130.38,347.95 130.60,350.00C130.82,352.05 131.02,356.67 131.30,360.00C131.58,363.33 131.97,365.83 132.30,370.00C132.63,374.17 132.98,377.50 133.30,385.00C133.62,392.50 133.92,407.22 134.20,415.00C134.48,422.78 134.73,425.87 135.00,431.70C135.27,437.53 135.52,444.17 135.80,450.00C136.08,455.83 136.25,463.03 136.70,466.70C137.15,470.37 137.95,470.62 138.50,472.00C139.05,473.38 139.20,473.95 140.00,475.00C140.80,476.05 142.18,478.58 143.30,478.30C144.42,478.02 145.75,474.77 146.70,473.30C147.65,471.83 148.17,470.33 149.00,469.50C149.83,468.67 150.70,467.93 151.70,468.30C152.70,468.67 153.90,469.75 155.00,471.70C156.10,473.65 157.33,478.07 158.30,480.00C159.27,481.93 159.97,483.72 160.80,483.30C161.63,482.88 162.47,480.05 163.30,477.50C164.13,474.95 164.97,471.20 165.80,468.00C166.63,464.80 167.52,461.30 168.30,458.30C169.08,455.30 169.80,452.50 170.50,450.00C171.20,447.50 171.75,445.25 172.50,443.30C173.25,441.35 174.45,439.40 175.00,438.30C175.55,437.20 175.25,436.42 175.80,436.70C176.35,436.98 177.47,438.62 178.30,440.00C179.13,441.38 179.82,443.33 180.80,445.00C181.78,446.67 183.22,449.72 184.20,450.00C185.18,450.28 185.87,448.37 186.70,446.70C187.53,445.03 188.52,441.67 189.20,440.00C189.88,438.33 190.30,437.62 190.80,436.70C191.30,435.78 191.75,435.62 192.20,434.50C192.65,433.38 193.12,432.08 193.50,430.00C193.88,427.92 194.20,425.33 194.50,422.00C194.80,418.67 195.07,414.00 195.30,410.00C195.53,406.00 195.72,401.50 195.90,398.00C196.08,394.50 196.22,391.42 196.40,389.00C196.58,386.58 196.80,383.50 197.00,383.50C197.20,383.50 197.42,386.58 197.60,389.00C197.78,391.42 197.92,394.50 198.10,398.00C198.28,401.50 198.47,406.00 198.70,410.00C198.93,414.00 199.20,418.67 199.50,422.00C199.80,425.33 200.12,427.92 200.50,430.00C200.88,432.08 201.35,433.38 201.80,434.50C202.25,435.62 202.70,435.78 203.20,436.70C203.70,437.62 204.12,438.33 204.80,440.00C205.48,441.67 206.47,445.03 207.30,446.70C208.13,448.37 208.82,450.28 209.80,450.00C210.78,449.72 212.22,446.67 213.20,445.00C214.18,443.33 214.87,441.38 215.70,440.00C216.53,438.62 217.65,436.98 218.20,436.70C218.75,436.42 218.45,437.20 219.00,438.30C219.55,439.40 220.75,441.35 221.50,443.30C222.25,445.25 222.80,447.50 223.50,450.00C224.20,452.50 224.92,455.30 225.70,458.30C226.48,461.30 227.37,464.80 228.20,468.00C229.03,471.20 229.87,474.95 230.70,477.50C231.53,480.05 232.37,482.88 233.20,483.30C234.03,483.72 234.73,481.93 235.70,480.00C236.67,478.07 237.90,473.65 239.00,471.70C240.10,469.75 241.30,468.67 242.30,468.30C243.30,467.93 244.17,468.67 245.00,469.50C245.83,470.33 246.35,471.83 247.30,473.30C248.25,474.77 249.58,478.02 250.70,478.30C251.82,478.58 253.20,476.05 254.00,475.00C254.80,473.95 254.95,473.38 255.50,472.00C256.05,470.62 256.85,470.37 257.30,466.70C257.75,463.03 257.92,455.83 258.20,450.00C258.48,444.17 258.73,437.53 259.00,431.70C259.27,425.87 259.52,422.78 259.80,415.00C260.08,407.22 260.38,392.50 260.70,385.00C261.02,377.50 261.37,374.17 261.70,370.00C262.03,365.83 262.42,363.33 262.70,360.00C262.98,356.67 263.18,352.05 263.40,350.00C263.62,347.95 263.78,347.93 264.00,347.70C264.22,347.47 264.42,348.05 264.70,348.60C264.98,349.15 265.25,350.50 265.70,351.00C266.15,351.50 266.85,351.22 267.40,351.60C267.95,351.98 268.45,352.57 269.00,353.30C269.55,354.03 270.20,355.00 270.70,356.00C271.20,357.00 271.55,358.08 272.00,359.30C272.45,360.52 272.95,362.35 273.40,363.30C273.85,364.25 274.27,364.88 274.70,365.00C275.13,365.12 275.50,364.83 276.00,364.00C276.50,363.17 277.13,361.33 277.70,360.00C278.27,358.67 278.78,357.23 279.40,356.00C280.02,354.77 280.80,353.50 281.40,352.60C282.00,351.70 282.57,350.82 283.00,350.60C283.43,350.38 283.72,351.73 284.00,351.30C284.28,350.87 284.48,348.77 284.70,348.00C284.92,347.23 285.03,346.37 285.30,346.70C285.57,347.03 286.02,347.78 286.30,350.00C286.58,352.22 286.78,356.67 287.00,360.00C287.22,363.33 287.37,365.00 287.60,370.00C287.83,375.00 288.13,383.33 288.40,390.00C288.67,396.67 288.90,402.08 289.20,410.00C289.50,417.92 289.93,429.17 290.20,437.50C290.47,445.83 290.57,454.52 290.80,460.00C291.03,465.48 291.17,467.95 291.60,470.40C292.03,472.85 292.90,473.35 293.40,474.70C293.90,476.05 294.17,477.20 294.60,478.50C295.03,479.80 295.50,481.25 296.00,482.50C296.50,483.75 297.03,484.98 297.60,486.00C298.17,487.02 298.75,488.68 299.40,488.60C300.05,488.52 300.77,486.80 301.50,485.50C302.23,484.20 303.17,482.00 303.80,480.80C304.43,479.60 304.73,478.88 305.30,478.30C305.87,477.72 306.42,477.10 307.20,477.30C307.98,477.50 309.20,478.30 310.00,479.50C310.80,480.70 311.42,482.42 312.00,484.50C312.58,486.58 313.00,490.25 313.50,492.00C314.00,493.75 314.47,494.62 315.00,495.00C315.53,495.38 316.12,494.80 316.70,494.30C317.28,493.80 317.95,492.83 318.50,492.00C319.05,491.17 319.50,490.30 320.00,489.30C320.50,488.30 321.00,487.17 321.50,486.00C322.00,484.83 322.50,483.75 323.00,482.30C323.50,480.85 324.03,479.10 324.50,477.30C324.97,475.50 325.37,473.55 325.80,471.50C326.23,469.45 326.68,467.25 327.10,465.00C327.52,462.75 328.10,459.17 328.30,458.00" fill="none" stroke="#8a8a8a" stroke-width="2.3" stroke-linejoin="round" stroke-linecap="round"/>
<polyline points="66.00,430.80 66.50,442.50 67.00,449.00 67.70,454.00 68.20,458.00 69.00,463.00 69.50,467.50 70.30,473.00 71.00,476.70 71.50,480.00 72.00,481.70 73.20,475.80 74.30,463.30 75.30,469.00 76.00,473.00 77.00,478.00 77.70,483.00 78.70,490.00 79.30,496.70 80.20,501.70 81.20,500.00 82.00,486.70 82.70,474.00 83.30,488.00 83.70,506.70 84.30,496.70 84.80,488.00 85.70,485.00 86.50,482.50 87.30,482.50 88.20,483.30 89.30,485.00 90.30,485.80 91.50,480.80 92.30,485.00 92.80,496.70 93.70,495.00 94.80,491.70 96.50,489.00 98.20,488.30 99.30,490.00 100.30,503.30 101.00,498.30 102.00,490.00 102.70,478.30 103.20,465.00 103.70,450.80 104.20,437.50 105.00,424.20 105.80,411.70 106.30,400.80 107.00,391.70 107.50,383.30 108.00,379.20 108.70,376.70 109.20,383.30 109.80,378.00 110.30,367.50 111.00,362.50 111.30,375.00 112.00,380.00 113.30,385.80 115.00,391.70 116.70,397.50 118.30,402.50 119.50,405.00 119.70,393.00 120.20,404.00 120.80,402.50 122.50,396.70 124.20,390.00 125.80,383.30 127.00,378.30 127.50,370.00 128.00,356.70 128.30,365.00 128.70,391.70 129.20,378.30 130.00,379.00 130.50,382.50 130.80,390.00 131.70,398.30 132.50,408.30 133.30,420.00 134.20,432.50 134.70,445.80 135.30,460.00 136.20,473.30 136.70,485.80 137.50,493.30 138.00,514.20 138.30,495.80 139.20,489.20 140.30,488.30 141.70,490.00 143.30,493.30 144.70,495.00 145.80,498.30 146.70,479.20 147.50,486.70 149.20,485.00 150.80,483.30 152.50,485.00 153.30,488.30 154.20,495.00 155.00,505.00 156.30,477.50 156.70,493.30 157.50,501.70 158.70,501.70 159.70,496.70 160.80,488.30 162.00,481.70 163.00,473.30 163.80,468.30 164.20,464.20 165.00,470.00 165.80,476.70 166.70,481.70 167.50,475.00 168.30,468.30 169.20,460.00 170.00,453.30 170.80,448.30 171.70,443.30 172.50,433.30 173.00,423.30 173.30,420.00 174.20,421.70 175.30,422.50 176.30,424.20 177.50,426.70 178.70,430.00 180.00,433.30 181.30,430.00 182.50,429.20 183.30,433.30 183.80,443.30 184.20,431.00 185.00,430.80 185.80,431.70 186.70,435.00 188.00,436.70 189.20,438.30 190.00,437.50 191.30,431.00 192.10,425.00 192.40,412.00 192.60,401.00 193.70,395.50 194.90,388.00 195.80,383.00 196.60,380.60 197.00,380.30 197.40,380.60 198.20,383.00 199.10,388.00 200.30,395.50 201.40,401.00 201.60,412.00 201.90,425.00 202.70,431.00 204.00,437.50 204.80,438.30 206.00,436.70 207.30,435.00 208.20,431.70 209.00,430.80 209.80,431.00 210.20,443.30 210.70,433.30 211.50,429.20 212.70,430.00 214.00,433.30 215.30,430.00 216.50,426.70 217.70,424.20 218.70,422.50 219.80,421.70 220.70,420.00 221.00,423.30 221.50,433.30 222.30,443.30 223.20,448.30 224.00,453.30 224.80,460.00 225.70,468.30 226.50,475.00 227.30,481.70 228.20,476.70 229.00,470.00 229.80,464.20 230.20,468.30 231.00,473.30 232.00,481.70 233.20,488.30 234.30,496.70 235.30,501.70 236.50,501.70 237.30,493.30 237.70,477.50 239.00,505.00 239.80,495.00 240.70,488.30 241.50,485.00 243.20,483.30 244.80,485.00 246.50,486.70 247.30,479.20 248.20,498.30 249.30,495.00 250.70,493.30 252.30,490.00 253.70,488.30 254.80,489.20 255.70,495.80 256.00,514.20 256.50,493.30 257.30,485.80 257.80,473.30 258.70,460.00 259.30,445.80 259.80,432.50 260.70,420.00 261.50,408.30 262.30,398.30 263.20,390.00 263.50,382.50 264.00,379.00 264.80,378.30 265.30,391.70 265.70,365.00 266.00,356.70 266.50,370.00 267.00,378.30 268.20,383.30 269.80,390.00 271.50,396.70 273.20,402.50 273.80,404.00 274.30,393.00 274.50,405.00 275.70,402.50 277.30,397.50 279.00,391.70 280.70,385.80 282.00,380.00 282.70,375.00 283.00,362.50 283.70,367.50 284.20,378.00 284.80,383.30 285.30,376.70 286.00,379.20 286.50,383.30 287.00,391.70 287.70,400.80 288.20,411.70 289.00,424.20 289.80,437.50 290.30,450.80 290.80,465.00 291.30,478.30 292.00,490.00 293.00,498.30 293.70,503.30 294.70,490.00 295.80,488.30 297.50,489.00 299.20,491.70 300.30,495.00 301.20,496.70 301.70,485.00 302.50,480.80 303.70,485.80 304.70,485.00 305.80,483.30 306.70,482.50 307.50,482.50 308.30,485.00 309.20,488.00 309.70,496.70 310.30,506.70 310.70,488.00 311.30,474.00 312.00,486.70 312.80,500.00 313.80,501.70 314.70,496.70 315.30,490.00 316.30,483.00 317.00,478.00 318.00,473.00 318.70,469.00 319.70,463.30 320.80,475.80 322.00,481.70 322.50,480.00 323.00,476.70 323.70,473.00 324.50,467.50 325.00,463.00 325.80,458.00 326.30,454.00 327.00,449.00 327.50,442.50 328.00,430.80" fill="none" stroke="#000" stroke-width="1.0" stroke-linejoin="round" stroke-linecap="round"/>
<path d="M195.45,380.30a1.55,1.55 0 1,0 3.1,0a1.55,1.55 0 1,0 -3.1,0M194.29,382.89a1.55,1.55 0 1,0 3.1,0a1.55,1.55 0 1,0 -3.1,0M193.40,387.72a1.55,1.55 0 1,0 3.1,0a1.55,1.55 0 1,0 -3.1,0M192.65,392.39a1.55,1.55 0 1,0 3.1,0a1.55,1.55 0 1,0 -3.1,0M191.92,396.65a1.55,1.55 0 1,0 3.1,0a1.55,1.55 0 1,0 -3.1,0M191.14,400.53a1.55,1.55 0 1,0 3.1,0a1.55,1.55 0 1,0 -3.1,0M190.37,426.36a1.55,1.55 0 1,0 3.1,0a1.55,1.55 0 1,0 -3.1,0M189.68,431.36a1.55,1.55 0 1,0 3.1,0a1.55,1.55 0 1,0 -3.1,0M188.90,435.23a1.55,1.55 0 1,0 3.1,0a1.55,1.55 0 1,0 -3.1,0M187.65,438.30a1.55,1.55 0 1,0 3.1,0a1.55,1.55 0 1,0 -3.1,0M187.01,437.45a1.55,1.55 0 1,0 3.1,0a1.55,1.55 0 1,0 -3.1,0M185.96,436.05a1.55,1.55 0 1,0 3.1,0a1.55,1.55 0 1,0 -3.1,0M184.89,434.06a1.55,1.55 0 1,0 3.1,0a1.55,1.55 0 1,0 -3.1,0M184.05,431.48a1.55,1.55 0 1,0 3.1,0a1.55,1.55 0 1,0 -3.1,0M183.45,430.80a1.55,1.55 0 1,0 3.1,0a1.55,1.55 0 1,0 -3.1,0M182.25,443.30a1.55,1.55 0 1,0 3.1,0a1.55,1.55 0 1,0 -3.1,0M180.95,429.20a1.55,1.55 0 1,0 3.1,0a1.55,1.55 0 1,0 -3.1,0M179.71,430.11a1.55,1.55 0 1,0 3.1,0a1.55,1.55 0 1,0 -3.1,0M178.45,433.30a1.55,1.55 0 1,0 3.1,0a1.55,1.55 0 1,0 -3.1,0M177.86,431.81a1.55,1.55 0 1,0 3.1,0a1.55,1.55 0 1,0 -3.1,0M176.94,429.42a1.55,1.55 0 1,0 3.1,0a1.55,1.55 0 1,0 -3.1,0M176.03,426.93a1.55,1.55 0 1,0 3.1,0a1.55,1.55 0 1,0 -3.1,0M175.13,424.99a1.55,1.55 0 1,0 3.1,0a1.55,1.55 0 1,0 -3.1,0M174.16,423.20a1.55,1.55 0 1,0 3.1,0a1.55,1.55 0 1,0 -3.1,0M173.15,422.07a1.55,1.55 0 1,0 3.1,0a1.55,1.55 0 1,0 -3.1,0M171.75,420.00a1.55,1.55 0 1,0 3.1,0a1.55,1.55 0 1,0 -3.1,0M171.00,432.33a1.55,1.55 0 1,0 3.1,0a1.55,1.55 0 1,0 -3.1,0M170.49,439.10a1.55,1.55 0 1,0 3.1,0a1.55,1.55 0 1,0 -3.1,0M169.89,444.73a1.55,1.55 0 1,0 3.1,0a1.55,1.55 0 1,0 -3.1,0M169.14,448.99a1.55,1.55 0 1,0 3.1,0a1.55,1.55 0 1,0 -3.1,0M168.41,453.62a1.55,1.55 0 1,0 3.1,0a1.55,1.55 0 1,0 -3.1,0M167.74,459.22a1.55,1.55 0 1,0 3.1,0a1.55,1.55 0 1,0 -3.1,0M167.07,465.31a1.55,1.55 0 1,0 3.1,0a1.55,1.55 0 1,0 -3.1,0M166.42,471.03a1.55,1.55 0 1,0 3.1,0a1.55,1.55 0 1,0 -3.1,0M165.76,476.63a1.55,1.55 0 1,0 3.1,0a1.55,1.55 0 1,0 -3.1,0M165.15,481.70a1.55,1.55 0 1,0 3.1,0a1.55,1.55 0 1,0 -3.1,0M164.33,477.16a1.55,1.55 0 1,0 3.1,0a1.55,1.55 0 1,0 -3.1,0M163.58,471.10a1.55,1.55 0 1,0 3.1,0a1.55,1.55 0 1,0 -3.1,0M162.65,464.20a1.55,1.55 0 1,0 3.1,0a1.55,1.55 0 1,0 -3.1,0M162.21,468.52a1.55,1.55 0 1,0 3.1,0a1.55,1.55 0 1,0 -3.1,0M161.49,473.08a1.55,1.55 0 1,0 3.1,0a1.55,1.55 0 1,0 -3.1,0M160.76,479.11a1.55,1.55 0 1,0 3.1,0a1.55,1.55 0 1,0 -3.1,0M160.09,483.68a1.55,1.55 0 1,0 3.1,0a1.55,1.55 0 1,0 -3.1,0M159.33,487.83a1.55,1.55 0 1,0 3.1,0a1.55,1.55 0 1,0 -3.1,0M158.58,493.42a1.55,1.55 0 1,0 3.1,0a1.55,1.55 0 1,0 -3.1,0M157.89,497.99a1.55,1.55 0 1,0 3.1,0a1.55,1.55 0 1,0 -3.1,0M157.12,501.70a1.55,1.55 0 1,0 3.1,0a1.55,1.55 0 1,0 -3.1,0M155.72,499.26a1.55,1.55 0 1,0 3.1,0a1.55,1.55 0 1,0 -3.1,0M155.09,491.01a1.55,1.55 0 1,0 3.1,0a1.55,1.55 0 1,0 -3.1,0M154.75,477.50a1.55,1.55 0 1,0 3.1,0a1.55,1.55 0 1,0 -3.1,0M154.18,489.65a1.55,1.55 0 1,0 3.1,0a1.55,1.55 0 1,0 -3.1,0M153.45,505.00a1.55,1.55 0 1,0 3.1,0a1.55,1.55 0 1,0 -3.1,0M153.17,501.48a1.55,1.55 0 1,0 3.1,0a1.55,1.55 0 1,0 -3.1,0M152.58,494.44a1.55,1.55 0 1,0 3.1,0a1.55,1.55 0 1,0 -3.1,0M151.88,489.29a1.55,1.55 0 1,0 3.1,0a1.55,1.55 0 1,0 -3.1,0M151.19,485.99a1.55,1.55 0 1,0 3.1,0a1.55,1.55 0 1,0 -3.1,0M150.37,484.42a1.55,1.55 0 1,0 3.1,0a1.55,1.55 0 1,0 -3.1,0M149.25,483.30a1.55,1.55 0 1,0 3.1,0a1.55,1.55 0 1,0 -3.1,0M148.15,484.47a1.55,1.55 0 1,0 3.1,0a1.55,1.55 0 1,0 -3.1,0M147.04,485.61a1.55,1.55 0 1,0 3.1,0a1.55,1.55 0 1,0 -3.1,0M145.95,486.70a1.55,1.55 0 1,0 3.1,0a1.55,1.55 0 1,0 -3.1,0M145.15,479.20a1.55,1.55 0 1,0 3.1,0a1.55,1.55 0 1,0 -3.1,0M144.64,490.10a1.55,1.55 0 1,0 3.1,0a1.55,1.55 0 1,0 -3.1,0M144.25,498.30a1.55,1.55 0 1,0 3.1,0a1.55,1.55 0 1,0 -3.1,0M143.25,495.29a1.55,1.55 0 1,0 3.1,0a1.55,1.55 0 1,0 -3.1,0M142.36,494.04a1.55,1.55 0 1,0 3.1,0a1.55,1.55 0 1,0 -3.1,0M141.28,492.34a1.55,1.55 0 1,0 3.1,0a1.55,1.55 0 1,0 -3.1,0M140.32,490.34a1.55,1.55 0 1,0 3.1,0a1.55,1.55 0 1,0 -3.1,0M139.35,489.03a1.55,1.55 0 1,0 3.1,0a1.55,1.55 0 1,0 -3.1,0M138.75,488.30a1.55,1.55 0 1,0 3.1,0a1.55,1.55 0 1,0 -3.1,0M137.12,493.07a1.55,1.55 0 1,0 3.1,0a1.55,1.55 0 1,0 -3.1,0M136.45,514.20a1.55,1.55 0 1,0 3.1,0a1.55,1.55 0 1,0 -3.1,0M136.02,496.31a1.55,1.55 0 1,0 3.1,0a1.55,1.55 0 1,0 -3.1,0M135.62,490.17a1.55,1.55 0 1,0 3.1,0a1.55,1.55 0 1,0 -3.1,0M134.97,481.29a1.55,1.55 0 1,0 3.1,0a1.55,1.55 0 1,0 -3.1,0M134.49,470.97a1.55,1.55 0 1,0 3.1,0a1.55,1.55 0 1,0 -3.1,0M133.93,462.64a1.55,1.55 0 1,0 3.1,0a1.55,1.55 0 1,0 -3.1,0M133.37,450.90a1.55,1.55 0 1,0 3.1,0a1.55,1.55 0 1,0 -3.1,0M132.88,438.60a1.55,1.55 0 1,0 3.1,0a1.55,1.55 0 1,0 -3.1,0M132.41,429.18a1.55,1.55 0 1,0 3.1,0a1.55,1.55 0 1,0 -3.1,0M131.84,421.20a1.55,1.55 0 1,0 3.1,0a1.55,1.55 0 1,0 -3.1,0M131.26,412.87a1.55,1.55 0 1,0 3.1,0a1.55,1.55 0 1,0 -3.1,0M130.70,405.14a1.55,1.55 0 1,0 3.1,0a1.55,1.55 0 1,0 -3.1,0M130.10,397.88a1.55,1.55 0 1,0 3.1,0a1.55,1.55 0 1,0 -3.1,0M129.45,391.88a1.55,1.55 0 1,0 3.1,0a1.55,1.55 0 1,0 -3.1,0M128.80,381.48a1.55,1.55 0 1,0 3.1,0a1.55,1.55 0 1,0 -3.1,0M127.65,378.30a1.55,1.55 0 1,0 3.1,0a1.55,1.55 0 1,0 -3.1,0M127.15,391.70a1.55,1.55 0 1,0 3.1,0a1.55,1.55 0 1,0 -3.1,0M126.45,356.70a1.55,1.55 0 1,0 3.1,0a1.55,1.55 0 1,0 -3.1,0M126.10,366.04a1.55,1.55 0 1,0 3.1,0a1.55,1.55 0 1,0 -3.1,0M125.63,375.31a1.55,1.55 0 1,0 3.1,0a1.55,1.55 0 1,0 -3.1,0M125.09,379.81a1.55,1.55 0 1,0 3.1,0a1.55,1.55 0 1,0 -3.1,0M124.27,383.21a1.55,1.55 0 1,0 3.1,0a1.55,1.55 0 1,0 -3.1,0M123.46,386.61a1.55,1.55 0 1,0 3.1,0a1.55,1.55 0 1,0 -3.1,0M122.65,390.02a1.55,1.55 0 1,0 3.1,0a1.55,1.55 0 1,0 -3.1,0M121.82,393.28a1.55,1.55 0 1,0 3.1,0a1.55,1.55 0 1,0 -3.1,0M120.99,396.53a1.55,1.55 0 1,0 3.1,0a1.55,1.55 0 1,0 -3.1,0M120.17,399.37a1.55,1.55 0 1,0 3.1,0a1.55,1.55 0 1,0 -3.1,0M119.31,402.30a1.55,1.55 0 1,0 3.1,0a1.55,1.55 0 1,0 -3.1,0M118.65,404.00a1.55,1.55 0 1,0 3.1,0a1.55,1.55 0 1,0 -3.1,0M117.95,405.00a1.55,1.55 0 1,0 3.1,0a1.55,1.55 0 1,0 -3.1,0M117.55,404.17a1.55,1.55 0 1,0 3.1,0a1.55,1.55 0 1,0 -3.1,0M116.59,401.99a1.55,1.55 0 1,0 3.1,0a1.55,1.55 0 1,0 -3.1,0M115.71,399.25a1.55,1.55 0 1,0 3.1,0a1.55,1.55 0 1,0 -3.1,0M114.83,396.42a1.55,1.55 0 1,0 3.1,0a1.55,1.55 0 1,0 -3.1,0M113.98,393.49a1.55,1.55 0 1,0 3.1,0a1.55,1.55 0 1,0 -3.1,0M113.12,390.55a1.55,1.55 0 1,0 3.1,0a1.55,1.55 0 1,0 -3.1,0M112.26,387.58a1.55,1.55 0 1,0 3.1,0a1.55,1.55 0 1,0 -3.1,0M111.41,384.28a1.55,1.55 0 1,0 3.1,0a1.55,1.55 0 1,0 -3.1,0M110.61,380.71a1.55,1.55 0 1,0 3.1,0a1.55,1.55 0 1,0 -3.1,0M109.81,375.43a1.55,1.55 0 1,0 3.1,0a1.55,1.55 0 1,0 -3.1,0M109.45,362.50a1.55,1.55 0 1,0 3.1,0a1.55,1.55 0 1,0 -3.1,0M108.41,374.66a1.55,1.55 0 1,0 3.1,0a1.55,1.55 0 1,0 -3.1,0M107.65,383.30a1.55,1.55 0 1,0 3.1,0a1.55,1.55 0 1,0 -3.1,0M107.15,376.70a1.55,1.55 0 1,0 3.1,0a1.55,1.55 0 1,0 -3.1,0M106.66,378.44a1.55,1.55 0 1,0 3.1,0a1.55,1.55 0 1,0 -3.1,0M105.81,385.57a1.55,1.55 0 1,0 3.1,0a1.55,1.55 0 1,0 -3.1,0M105.27,394.00a1.55,1.55 0 1,0 3.1,0a1.55,1.55 0 1,0 -3.1,0M104.69,402.17a1.55,1.55 0 1,0 3.1,0a1.55,1.55 0 1,0 -3.1,0M104.19,412.66a1.55,1.55 0 1,0 3.1,0a1.55,1.55 0 1,0 -3.1,0M103.63,421.32a1.55,1.55 0 1,0 3.1,0a1.55,1.55 0 1,0 -3.1,0M103.08,430.34a1.55,1.55 0 1,0 3.1,0a1.55,1.55 0 1,0 -3.1,0M102.54,440.49a1.55,1.55 0 1,0 3.1,0a1.55,1.55 0 1,0 -3.1,0M102.07,453.09a1.55,1.55 0 1,0 3.1,0a1.55,1.55 0 1,0 -3.1,0M101.61,466.05a1.55,1.55 0 1,0 3.1,0a1.55,1.55 0 1,0 -3.1,0M101.14,478.43a1.55,1.55 0 1,0 3.1,0a1.55,1.55 0 1,0 -3.1,0M100.60,487.49a1.55,1.55 0 1,0 3.1,0a1.55,1.55 0 1,0 -3.1,0M100.06,493.26a1.55,1.55 0 1,0 3.1,0a1.55,1.55 0 1,0 -3.1,0M99.39,498.75a1.55,1.55 0 1,0 3.1,0a1.55,1.55 0 1,0 -3.1,0M98.75,503.30a1.55,1.55 0 1,0 3.1,0a1.55,1.55 0 1,0 -3.1,0M98.10,494.71a1.55,1.55 0 1,0 3.1,0a1.55,1.55 0 1,0 -3.1,0M97.52,489.65a1.55,1.55 0 1,0 3.1,0a1.55,1.55 0 1,0 -3.1,0M96.65,488.30a1.55,1.55 0 1,0 3.1,0a1.55,1.55 0 1,0 -3.1,0M95.24,488.88a1.55,1.55 0 1,0 3.1,0a1.55,1.55 0 1,0 -3.1,0M94.00,490.52a1.55,1.55 0 1,0 3.1,0a1.55,1.55 0 1,0 -3.1,0M92.97,492.53a1.55,1.55 0 1,0 3.1,0a1.55,1.55 0 1,0 -3.1,0M92.09,495.12a1.55,1.55 0 1,0 3.1,0a1.55,1.55 0 1,0 -3.1,0M91.25,496.70a1.55,1.55 0 1,0 3.1,0a1.55,1.55 0 1,0 -3.1,0M90.61,484.27a1.55,1.55 0 1,0 3.1,0a1.55,1.55 0 1,0 -3.1,0M89.95,480.80a1.55,1.55 0 1,0 3.1,0a1.55,1.55 0 1,0 -3.1,0M88.75,485.80a1.55,1.55 0 1,0 3.1,0a1.55,1.55 0 1,0 -3.1,0M88.22,485.37a1.55,1.55 0 1,0 3.1,0a1.55,1.55 0 1,0 -3.1,0M87.07,483.94a1.55,1.55 0 1,0 3.1,0a1.55,1.55 0 1,0 -3.1,0M86.04,482.75a1.55,1.55 0 1,0 3.1,0a1.55,1.55 0 1,0 -3.1,0M84.90,482.65a1.55,1.55 0 1,0 3.1,0a1.55,1.55 0 1,0 -3.1,0M84.02,485.42a1.55,1.55 0 1,0 3.1,0a1.55,1.55 0 1,0 -3.1,0M83.16,489.53a1.55,1.55 0 1,0 3.1,0a1.55,1.55 0 1,0 -3.1,0M82.63,498.76a1.55,1.55 0 1,0 3.1,0a1.55,1.55 0 1,0 -3.1,0M82.15,506.70a1.55,1.55 0 1,0 3.1,0a1.55,1.55 0 1,0 -3.1,0M81.68,486.45a1.55,1.55 0 1,0 3.1,0a1.55,1.55 0 1,0 -3.1,0M81.15,474.00a1.55,1.55 0 1,0 3.1,0a1.55,1.55 0 1,0 -3.1,0M80.71,482.04a1.55,1.55 0 1,0 3.1,0a1.55,1.55 0 1,0 -3.1,0M80.18,491.21a1.55,1.55 0 1,0 3.1,0a1.55,1.55 0 1,0 -3.1,0M79.64,500.02a1.55,1.55 0 1,0 3.1,0a1.55,1.55 0 1,0 -3.1,0M78.65,501.70a1.55,1.55 0 1,0 3.1,0a1.55,1.55 0 1,0 -3.1,0M77.87,497.39a1.55,1.55 0 1,0 3.1,0a1.55,1.55 0 1,0 -3.1,0M77.12,489.80a1.55,1.55 0 1,0 3.1,0a1.55,1.55 0 1,0 -3.1,0M76.42,484.86a1.55,1.55 0 1,0 3.1,0a1.55,1.55 0 1,0 -3.1,0M75.71,479.87a1.55,1.55 0 1,0 3.1,0a1.55,1.55 0 1,0 -3.1,0M75.01,475.80a1.55,1.55 0 1,0 3.1,0a1.55,1.55 0 1,0 -3.1,0M74.24,471.78a1.55,1.55 0 1,0 3.1,0a1.55,1.55 0 1,0 -3.1,0M73.49,467.51a1.55,1.55 0 1,0 3.1,0a1.55,1.55 0 1,0 -3.1,0M72.75,463.30a1.55,1.55 0 1,0 3.1,0a1.55,1.55 0 1,0 -3.1,0M72.13,470.33a1.55,1.55 0 1,0 3.1,0a1.55,1.55 0 1,0 -3.1,0M71.52,476.44a1.55,1.55 0 1,0 3.1,0a1.55,1.55 0 1,0 -3.1,0M70.45,481.70a1.55,1.55 0 1,0 3.1,0a1.55,1.55 0 1,0 -3.1,0M69.96,480.04a1.55,1.55 0 1,0 3.1,0a1.55,1.55 0 1,0 -3.1,0M69.10,474.87a1.55,1.55 0 1,0 3.1,0a1.55,1.55 0 1,0 -3.1,0M68.34,470.19a1.55,1.55 0 1,0 3.1,0a1.55,1.55 0 1,0 -3.1,0M67.63,464.64a1.55,1.55 0 1,0 3.1,0a1.55,1.55 0 1,0 -3.1,0M66.98,460.05a1.55,1.55 0 1,0 3.1,0a1.55,1.55 0 1,0 -3.1,0M66.25,454.80a1.55,1.55 0 1,0 3.1,0a1.55,1.55 0 1,0 -3.1,0M65.57,449.87a1.55,1.55 0 1,0 3.1,0a1.55,1.55 0 1,0 -3.1,0M64.87,440.65a1.55,1.55 0 1,0 3.1,0a1.55,1.55 0 1,0 -3.1,0M64.45,430.80a1.55,1.55 0 1,0 3.1,0a1.55,1.55 0 1,0 -3.1,0M196.61,382.89a1.55,1.55 0 1,0 3.1,0a1.55,1.55 0 1,0 -3.1,0M197.50,387.72a1.55,1.55 0 1,0 3.1,0a1.55,1.55 0 1,0 -3.1,0M198.25,392.39a1.55,1.55 0 1,0 3.1,0a1.55,1.55 0 1,0 -3.1,0M198.98,396.65a1.55,1.55 0 1,0 3.1,0a1.55,1.55 0 1,0 -3.1,0M199.76,400.53a1.55,1.55 0 1,0 3.1,0a1.55,1.55 0 1,0 -3.1,0M200.53,426.36a1.55,1.55 0 1,0 3.1,0a1.55,1.55 0 1,0 -3.1,0M201.22,431.36a1.55,1.55 0 1,0 3.1,0a1.55,1.55 0 1,0 -3.1,0M202.00,435.23a1.55,1.55 0 1,0 3.1,0a1.55,1.55 0 1,0 -3.1,0M203.25,438.30a1.55,1.55 0 1,0 3.1,0a1.55,1.55 0 1,0 -3.1,0M203.89,437.45a1.55,1.55 0 1,0 3.1,0a1.55,1.55 0 1,0 -3.1,0M204.94,436.05a1.55,1.55 0 1,0 3.1,0a1.55,1.55 0 1,0 -3.1,0M206.01,434.06a1.55,1.55 0 1,0 3.1,0a1.55,1.55 0 1,0 -3.1,0M206.85,431.48a1.55,1.55 0 1,0 3.1,0a1.55,1.55 0 1,0 -3.1,0M207.45,430.80a1.55,1.55 0 1,0 3.1,0a1.55,1.55 0 1,0 -3.1,0M208.65,443.30a1.55,1.55 0 1,0 3.1,0a1.55,1.55 0 1,0 -3.1,0M209.95,429.20a1.55,1.55 0 1,0 3.1,0a1.55,1.55 0 1,0 -3.1,0M211.19,430.11a1.55,1.55 0 1,0 3.1,0a1.55,1.55 0 1,0 -3.1,0M212.45,433.30a1.55,1.55 0 1,0 3.1,0a1.55,1.55 0 1,0 -3.1,0M213.04,431.81a1.55,1.55 0 1,0 3.1,0a1.55,1.55 0 1,0 -3.1,0M213.96,429.42a1.55,1.55 0 1,0 3.1,0a1.55,1.55 0 1,0 -3.1,0M214.87,426.93a1.55,1.55 0 1,0 3.1,0a1.55,1.55 0 1,0 -3.1,0M215.77,424.99a1.55,1.55 0 1,0 3.1,0a1.55,1.55 0 1,0 -3.1,0M216.74,423.20a1.55,1.55 0 1,0 3.1,0a1.55,1.55 0 1,0 -3.1,0M217.75,422.07a1.55,1.55 0 1,0 3.1,0a1.55,1.55 0 1,0 -3.1,0M219.15,420.00a1.55,1.55 0 1,0 3.1,0a1.55,1.55 0 1,0 -3.1,0M219.90,432.33a1.55,1.55 0 1,0 3.1,0a1.55,1.55 0 1,0 -3.1,0M220.41,439.10a1.55,1.55 0 1,0 3.1,0a1.55,1.55 0 1,0 -3.1,0M221.01,444.73a1.55,1.55 0 1,0 3.1,0a1.55,1.55 0 1,0 -3.1,0M221.76,448.99a1.55,1.55 0 1,0 3.1,0a1.55,1.55 0 1,0 -3.1,0M222.49,453.62a1.55,1.55 0 1,0 3.1,0a1.55,1.55 0 1,0 -3.1,0M223.16,459.22a1.55,1.55 0 1,0 3.1,0a1.55,1.55 0 1,0 -3.1,0M223.83,465.31a1.55,1.55 0 1,0 3.1,0a1.55,1.55 0 1,0 -3.1,0M224.48,471.03a1.55,1.55 0 1,0 3.1,0a1.55,1.55 0 1,0 -3.1,0M225.14,476.63a1.55,1.55 0 1,0 3.1,0a1.55,1.55 0 1,0 -3.1,0M225.75,481.70a1.55,1.55 0 1,0 3.1,0a1.55,1.55 0 1,0 -3.1,0M226.57,477.16a1.55,1.55 0 1,0 3.1,0a1.55,1.55 0 1,0 -3.1,0M227.32,471.10a1.55,1.55 0 1,0 3.1,0a1.55,1.55 0 1,0 -3.1,0M228.25,464.20a1.55,1.55 0 1,0 3.1,0a1.55,1.55 0 1,0 -3.1,0M228.69,468.52a1.55,1.55 0 1,0 3.1,0a1.55,1.55 0 1,0 -3.1,0M229.41,473.08a1.55,1.55 0 1,0 3.1,0a1.55,1.55 0 1,0 -3.1,0M230.14,479.11a1.55,1.55 0 1,0 3.1,0a1.55,1.55 0 1,0 -3.1,0M230.81,483.68a1.55,1.55 0 1,0 3.1,0a1.55,1.55 0 1,0 -3.1,0M231.57,487.83a1.55,1.55 0 1,0 3.1,0a1.55,1.55 0 1,0 -3.1,0M232.32,493.42a1.55,1.55 0 1,0 3.1,0a1.55,1.55 0 1,0 -3.1,0M233.01,497.99a1.55,1.55 0 1,0 3.1,0a1.55,1.55 0 1,0 -3.1,0M233.78,501.70a1.55,1.55 0 1,0 3.1,0a1.55,1.55 0 1,0 -3.1,0M235.18,499.26a1.55,1.55 0 1,0 3.1,0a1.55,1.55 0 1,0 -3.1,0M235.81,491.01a1.55,1.55 0 1,0 3.1,0a1.55,1.55 0 1,0 -3.1,0M236.15,477.50a1.55,1.55 0 1,0 3.1,0a1.55,1.55 0 1,0 -3.1,0M236.72,489.65a1.55,1.55 0 1,0 3.1,0a1.55,1.55 0 1,0 -3.1,0M237.45,505.00a1.55,1.55 0 1,0 3.1,0a1.55,1.55 0 1,0 -3.1,0M237.73,501.48a1.55,1.55 0 1,0 3.1,0a1.55,1.55 0 1,0 -3.1,0M238.32,494.44a1.55,1.55 0 1,0 3.1,0a1.55,1.55 0 1,0 -3.1,0M239.02,489.29a1.55,1.55 0 1,0 3.1,0a1.55,1.55 0 1,0 -3.1,0M239.71,485.99a1.55,1.55 0 1,0 3.1,0a1.55,1.55 0 1,0 -3.1,0M240.53,484.42a1.55,1.55 0 1,0 3.1,0a1.55,1.55 0 1,0 -3.1,0M241.65,483.30a1.55,1.55 0 1,0 3.1,0a1.55,1.55 0 1,0 -3.1,0M242.75,484.47a1.55,1.55 0 1,0 3.1,0a1.55,1.55 0 1,0 -3.1,0M243.86,485.61a1.55,1.55 0 1,0 3.1,0a1.55,1.55 0 1,0 -3.1,0M244.95,486.70a1.55,1.55 0 1,0 3.1,0a1.55,1.55 0 1,0 -3.1,0M245.75,479.20a1.55,1.55 0 1,0 3.1,0a1.55,1.55 0 1,0 -3.1,0M246.26,490.10a1.55,1.55 0 1,0 3.1,0a1.55,1.55 0 1,0 -3.1,0M246.65,498.30a1.55,1.55 0 1,0 3.1,0a1.55,1.55 0 1,0 -3.1,0M247.65,495.29a1.55,1.55 0 1,0 3.1,0a1.55,1.55 0 1,0 -3.1,0M248.54,494.04a1.55,1.55 0 1,0 3.1,0a1.55,1.55 0 1,0 -3.1,0M249.62,492.34a1.55,1.55 0 1,0 3.1,0a1.55,1.55 0 1,0 -3.1,0M250.58,490.34a1.55,1.55 0 1,0 3.1,0a1.55,1.55 0 1,0 -3.1,0M251.55,489.03a1.55,1.55 0 1,0 3.1,0a1.55,1.55 0 1,0 -3.1,0M252.15,488.30a1.55,1.55 0 1,0 3.1,0a1.55,1.55 0 1,0 -3.1,0M253.78,493.07a1.55,1.55 0 1,0 3.1,0a1.55,1.55 0 1,0 -3.1,0M254.45,514.20a1.55,1.55 0 1,0 3.1,0a1.55,1.55 0 1,0 -3.1,0M254.88,496.31a1.55,1.55 0 1,0 3.1,0a1.55,1.55 0 1,0 -3.1,0M255.28,490.17a1.55,1.55 0 1,0 3.1,0a1.55,1.55 0 1,0 -3.1,0M255.93,481.29a1.55,1.55 0 1,0 3.1,0a1.55,1.55 0 1,0 -3.1,0M256.41,470.97a1.55,1.55 0 1,0 3.1,0a1.55,1.55 0 1,0 -3.1,0M256.97,462.64a1.55,1.55 0 1,0 3.1,0a1.55,1.55 0 1,0 -3.1,0M257.53,450.90a1.55,1.55 0 1,0 3.1,0a1.55,1.55 0 1,0 -3.1,0M258.02,438.60a1.55,1.55 0 1,0 3.1,0a1.55,1.55 0 1,0 -3.1,0M258.49,429.18a1.55,1.55 0 1,0 3.1,0a1.55,1.55 0 1,0 -3.1,0M259.06,421.20a1.55,1.55 0 1,0 3.1,0a1.55,1.55 0 1,0 -3.1,0M259.64,412.87a1.55,1.55 0 1,0 3.1,0a1.55,1.55 0 1,0 -3.1,0M260.20,405.14a1.55,1.55 0 1,0 3.1,0a1.55,1.55 0 1,0 -3.1,0M260.80,397.88a1.55,1.55 0 1,0 3.1,0a1.55,1.55 0 1,0 -3.1,0M261.45,391.88a1.55,1.55 0 1,0 3.1,0a1.55,1.55 0 1,0 -3.1,0M262.10,381.48a1.55,1.55 0 1,0 3.1,0a1.55,1.55 0 1,0 -3.1,0M263.25,378.30a1.55,1.55 0 1,0 3.1,0a1.55,1.55 0 1,0 -3.1,0M263.75,391.70a1.55,1.55 0 1,0 3.1,0a1.55,1.55 0 1,0 -3.1,0M264.45,356.70a1.55,1.55 0 1,0 3.1,0a1.55,1.55 0 1,0 -3.1,0M264.80,366.04a1.55,1.55 0 1,0 3.1,0a1.55,1.55 0 1,0 -3.1,0M265.27,375.31a1.55,1.55 0 1,0 3.1,0a1.55,1.55 0 1,0 -3.1,0M265.81,379.81a1.55,1.55 0 1,0 3.1,0a1.55,1.55 0 1,0 -3.1,0M266.63,383.21a1.55,1.55 0 1,0 3.1,0a1.55,1.55 0 1,0 -3.1,0M267.44,386.61a1.55,1.55 0 1,0 3.1,0a1.55,1.55 0 1,0 -3.1,0M268.25,390.02a1.55,1.55 0 1,0 3.1,0a1.55,1.55 0 1,0 -3.1,0M269.08,393.28a1.55,1.55 0 1,0 3.1,0a1.55,1.55 0 1,0 -3.1,0M269.91,396.53a1.55,1.55 0 1,0 3.1,0a1.55,1.55 0 1,0 -3.1,0M270.73,399.37a1.55,1.55 0 1,0 3.1,0a1.55,1.55 0 1,0 -3.1,0M271.59,402.30a1.55,1.55 0 1,0 3.1,0a1.55,1.55 0 1,0 -3.1,0M272.25,404.00a1.55,1.55 0 1,0 3.1,0a1.55,1.55 0 1,0 -3.1,0M272.95,405.00a1.55,1.55 0 1,0 3.1,0a1.55,1.55 0 1,0 -3.1,0M273.35,404.17a1.55,1.55 0 1,0 3.1,0a1.55,1.55 0 1,0 -3.1,0M274.31,401.99a1.55,1.55 0 1,0 3.1,0a1.55,1.55 0 1,0 -3.1,0M275.19,399.25a1.55,1.55 0 1,0 3.1,0a1.55,1.55 0 1,0 -3.1,0M276.07,396.42a1.55,1.55 0 1,0 3.1,0a1.55,1.55 0 1,0 -3.1,0M276.92,393.49a1.55,1.55 0 1,0 3.1,0a1.55,1.55 0 1,0 -3.1,0M277.78,390.55a1.55,1.55 0 1,0 3.1,0a1.55,1.55 0 1,0 -3.1,0M278.64,387.58a1.55,1.55 0 1,0 3.1,0a1.55,1.55 0 1,0 -3.1,0M279.49,384.28a1.55,1.55 0 1,0 3.1,0a1.55,1.55 0 1,0 -3.1,0M280.29,380.71a1.55,1.55 0 1,0 3.1,0a1.55,1.55 0 1,0 -3.1,0M281.09,375.43a1.55,1.55 0 1,0 3.1,0a1.55,1.55 0 1,0 -3.1,0M281.45,362.50a1.55,1.55 0 1,0 3.1,0a1.55,1.55 0 1,0 -3.1,0M282.49,374.66a1.55,1.55 0 1,0 3.1,0a1.55,1.55 0 1,0 -3.1,0M283.25,383.30a1.55,1.55 0 1,0 3.1,0a1.55,1.55 0 1,0 -3.1,0M283.75,376.70a1.55,1.55 0 1,0 3.1,0a1.55,1.55 0 1,0 -3.1,0M284.24,378.44a1.55,1.55 0 1,0 3.1,0a1.55,1.55 0 1,0 -3.1,0M285.09,385.57a1.55,1.55 0 1,0 3.1,0a1.55,1.55 0 1,0 -3.1,0M285.63,394.00a1.55,1.55 0 1,0 3.1,0a1.55,1.55 0 1,0 -3.1,0M286.21,402.17a1.55,1.55 0 1,0 3.1,0a1.55,1.55 0 1,0 -3.1,0M286.71,412.66a1.55,1.55 0 1,0 3.1,0a1.55,1.55 0 1,0 -3.1,0M287.27,421.32a1.55,1.55 0 1,0 3.1,0a1.55,1.55 0 1,0 -3.1,0M287.82,430.34a1.55,1.55 0 1,0 3.1,0a1.55,1.55 0 1,0 -3.1,0M288.36,440.49a1.55,1.55 0 1,0 3.1,0a1.55,1.55 0 1,0 -3.1,0M288.83,453.09a1.55,1.55 0 1,0 3.1,0a1.55,1.55 0 1,0 -3.1,0M289.29,466.05a1.55,1.55 0 1,0 3.1,0a1.55,1.55 0 1,0 -3.1,0M289.76,478.43a1.55,1.55 0 1,0 3.1,0a1.55,1.55 0 1,0 -3.1,0M290.30,487.49a1.55,1.55 0 1,0 3.1,0a1.55,1.55 0 1,0 -3.1,0M290.84,493.26a1.55,1.55 0 1,0 3.1,0a1.55,1.55 0 1,0 -3.1,0M291.51,498.75a1.55,1.55 0 1,0 3.1,0a1.55,1.55 0 1,0 -3.1,0M292.15,503.30a1.55,1.55 0 1,0 3.1,0a1.55,1.55 0 1,0 -3.1,0M292.80,494.71a1.55,1.55 0 1,0 3.1,0a1.55,1.55 0 1,0 -3.1,0M293.38,489.65a1.55,1.55 0 1,0 3.1,0a1.55,1.55 0 1,0 -3.1,0M294.25,488.30a1.55,1.55 0 1,0 3.1,0a1.55,1.55 0 1,0 -3.1,0M295.66,488.88a1.55,1.55 0 1,0 3.1,0a1.55,1.55 0 1,0 -3.1,0M296.90,490.52a1.55,1.55 0 1,0 3.1,0a1.55,1.55 0 1,0 -3.1,0M297.93,492.53a1.55,1.55 0 1,0 3.1,0a1.55,1.55 0 1,0 -3.1,0M298.81,495.12a1.55,1.55 0 1,0 3.1,0a1.55,1.55 0 1,0 -3.1,0M299.65,496.70a1.55,1.55 0 1,0 3.1,0a1.55,1.55 0 1,0 -3.1,0M300.29,484.27a1.55,1.55 0 1,0 3.1,0a1.55,1.55 0 1,0 -3.1,0M300.95,480.80a1.55,1.55 0 1,0 3.1,0a1.55,1.55 0 1,0 -3.1,0M302.15,485.80a1.55,1.55 0 1,0 3.1,0a1.55,1.55 0 1,0 -3.1,0M302.68,485.37a1.55,1.55 0 1,0 3.1,0a1.55,1.55 0 1,0 -3.1,0M303.83,483.94a1.55,1.55 0 1,0 3.1,0a1.55,1.55 0 1,0 -3.1,0M304.86,482.75a1.55,1.55 0 1,0 3.1,0a1.55,1.55 0 1,0 -3.1,0M306.00,482.65a1.55,1.55 0 1,0 3.1,0a1.55,1.55 0 1,0 -3.1,0M306.88,485.42a1.55,1.55 0 1,0 3.1,0a1.55,1.55 0 1,0 -3.1,0M307.74,489.53a1.55,1.55 0 1,0 3.1,0a1.55,1.55 0 1,0 -3.1,0M308.27,498.76a1.55,1.55 0 1,0 3.1,0a1.55,1.55 0 1,0 -3.1,0M308.75,506.70a1.55,1.55 0 1,0 3.1,0a1.55,1.55 0 1,0 -3.1,0M309.22,486.45a1.55,1.55 0 1,0 3.1,0a1.55,1.55 0 1,0 -3.1,0M309.75,474.00a1.55,1.55 0 1,0 3.1,0a1.55,1.55 0 1,0 -3.1,0M310.19,482.04a1.55,1.55 0 1,0 3.1,0a1.55,1.55 0 1,0 -3.1,0M310.72,491.21a1.55,1.55 0 1,0 3.1,0a1.55,1.55 0 1,0 -3.1,0M311.26,500.02a1.55,1.55 0 1,0 3.1,0a1.55,1.55 0 1,0 -3.1,0M312.25,501.70a1.55,1.55 0 1,0 3.1,0a1.55,1.55 0 1,0 -3.1,0M313.03,497.39a1.55,1.55 0 1,0 3.1,0a1.55,1.55 0 1,0 -3.1,0M313.78,489.80a1.55,1.55 0 1,0 3.1,0a1.55,1.55 0 1,0 -3.1,0M314.48,484.86a1.55,1.55 0 1,0 3.1,0a1.55,1.55 0 1,0 -3.1,0M315.19,479.87a1.55,1.55 0 1,0 3.1,0a1.55,1.55 0 1,0 -3.1,0M315.89,475.80a1.55,1.55 0 1,0 3.1,0a1.55,1.55 0 1,0 -3.1,0M316.66,471.78a1.55,1.55 0 1,0 3.1,0a1.55,1.55 0 1,0 -3.1,0M317.41,467.51a1.55,1.55 0 1,0 3.1,0a1.55,1.55 0 1,0 -3.1,0M318.15,463.30a1.55,1.55 0 1,0 3.1,0a1.55,1.55 0 1,0 -3.1,0M318.77,470.33a1.55,1.55 0 1,0 3.1,0a1.55,1.55 0 1,0 -3.1,0M319.38,476.44a1.55,1.55 0 1,0 3.1,0a1.55,1.55 0 1,0 -3.1,0M320.45,481.70a1.55,1.55 0 1,0 3.1,0a1.55,1.55 0 1,0 -3.1,0M320.94,480.04a1.55,1.55 0 1,0 3.1,0a1.55,1.55 0 1,0 -3.1,0M321.80,474.87a1.55,1.55 0 1,0 3.1,0a1.55,1.55 0 1,0 -3.1,0M322.56,470.19a1.55,1.55 0 1,0 3.1,0a1.55,1.55 0 1,0 -3.1,0M323.27,464.64a1.55,1.55 0 1,0 3.1,0a1.55,1.55 0 1,0 -3.1,0M323.92,460.05a1.55,1.55 0 1,0 3.1,0a1.55,1.55 0 1,0 -3.1,0M324.65,454.80a1.55,1.55 0 1,0 3.1,0a1.55,1.55 0 1,0 -3.1,0M325.33,449.87a1.55,1.55 0 1,0 3.1,0a1.55,1.55 0 1,0 -3.1,0M326.03,440.65a1.55,1.55 0 1,0 3.1,0a1.55,1.55 0 1,0 -3.1,0M326.45,430.80a1.55,1.55 0 1,0 3.1,0a1.55,1.55 0 1,0 -3.1,0" fill="#000"/>
</g>
<g style="font-family:'Liberation Sans',sans-serif;font-size:11.7px" fill="#000" stroke="#000" stroke-width="0.25">
<path d="M409.5,322.0H678.4V526.3H409.5Z" fill="none" stroke="#262626" stroke-width="0.8"/>
<path d="M409.5,322.00h2.7M678.4,322.00h-2.7M409.5,351.19h2.7M678.4,351.19h-2.7M409.5,380.37h2.7M678.4,380.37h-2.7M409.5,409.56h2.7M678.4,409.56h-2.7M409.5,438.74h2.7M678.4,438.74h-2.7M409.5,467.93h2.7M678.4,467.93h-2.7M409.5,497.11h2.7M678.4,497.11h-2.7M409.5,526.30h2.7M678.4,526.30h-2.7M543.95,526.3v-2.7M543.95,322.0v2.7" fill="none" stroke="#262626" stroke-width="0.8"/>
<text transform="translate(405.2,326.40) scale(1,1.03)" text-anchor="end">4.15</text>
<text transform="translate(405.2,355.59) scale(1,1.03)" text-anchor="end">4.1</text>
<text transform="translate(405.2,384.77) scale(1,1.03)" text-anchor="end">4.05</text>
<text transform="translate(405.2,413.96) scale(1,1.03)" text-anchor="end">4</text>
<text transform="translate(405.2,443.14) scale(1,1.03)" text-anchor="end">3.95</text>
<text transform="translate(405.2,472.33) scale(1,1.03)" text-anchor="end">3.9</text>
<text transform="translate(405.2,501.51) scale(1,1.03)" text-anchor="end">3.85</text>
<text transform="translate(405.2,530.70) scale(1,1.03)" text-anchor="end">3.8</text>
<text transform="translate(409.5,542.70) scale(1,1.03)" text-anchor="middle">-50</text>
<text transform="translate(543.95,542.70) scale(1,1.03)" text-anchor="middle">0</text>
<text transform="translate(678.4,542.70) scale(1,1.03)" text-anchor="middle">50</text>
</g>
<g clip-path="url(#c4)">
<path d="M409.70,522.60C410.08,522.73 411.23,523.23 412.00,523.40C412.77,523.57 413.42,523.67 414.30,523.60C415.18,523.53 416.32,523.35 417.30,523.00C418.28,522.65 419.23,522.08 420.20,521.50C421.17,520.92 422.23,520.28 423.10,519.50C423.97,518.72 424.72,517.63 425.40,516.80C426.08,515.97 426.75,515.03 427.20,514.50C427.65,513.97 427.72,513.52 428.10,513.60C428.48,513.68 428.97,514.27 429.50,515.00C430.03,515.73 430.62,517.35 431.30,518.00C431.98,518.65 432.63,518.85 433.60,518.90C434.57,518.95 435.83,518.60 437.10,518.30C438.37,518.00 439.73,517.65 441.20,517.10C442.67,516.55 444.43,515.53 445.90,515.00C447.37,514.47 448.83,514.13 450.00,513.90C451.17,513.67 451.73,513.50 452.90,513.60C454.07,513.70 455.63,514.17 457.00,514.50C458.37,514.83 459.65,515.17 461.10,515.60C462.55,516.03 464.45,516.77 465.70,517.10C466.95,517.43 467.62,517.72 468.60,517.60C469.58,517.48 470.72,517.02 471.60,516.40C472.48,515.78 473.13,515.10 473.90,513.90C474.67,512.70 475.52,511.15 476.20,509.20C476.88,507.25 477.50,504.73 478.00,502.20C478.50,499.67 478.92,496.73 479.20,494.00C479.48,491.27 479.55,488.47 479.70,485.80C479.85,483.13 480.00,480.82 480.10,478.00C480.20,475.18 480.18,472.57 480.30,468.90C480.42,465.23 480.62,459.70 480.80,456.00C480.98,452.30 481.17,449.32 481.40,446.70C481.63,444.08 481.87,441.67 482.20,440.30C482.53,438.93 482.95,438.40 483.40,438.50C483.85,438.60 484.35,439.82 484.90,440.90C485.45,441.98 486.02,443.63 486.70,445.00C487.38,446.37 488.03,448.13 489.00,449.10C489.97,450.07 491.13,450.80 492.50,450.80C493.87,450.80 495.45,449.78 497.20,449.10C498.95,448.42 501.25,447.33 503.00,446.70C504.75,446.07 506.23,445.58 507.70,445.30C509.17,445.02 510.25,444.87 511.80,445.00C513.35,445.13 515.15,445.52 517.00,446.10C518.85,446.68 521.13,447.82 522.90,448.50C524.67,449.18 526.23,449.82 527.60,450.20C528.97,450.58 529.93,451.08 531.10,450.80C532.27,450.52 533.53,449.77 534.60,448.50C535.67,447.23 536.63,445.45 537.50,443.20C538.37,440.95 539.12,437.92 539.80,435.00C540.48,432.08 541.10,428.80 541.60,425.70C542.10,422.60 542.48,419.13 542.80,416.40C543.12,413.67 543.27,409.30 543.50,409.30C543.73,409.30 543.88,413.67 544.20,416.40C544.52,419.13 544.90,422.60 545.40,425.70C545.90,428.80 546.52,432.08 547.20,435.00C547.88,437.92 548.63,440.95 549.50,443.20C550.37,445.45 551.33,447.23 552.40,448.50C553.47,449.77 554.73,450.52 555.90,450.80C557.07,451.08 558.03,450.58 559.40,450.20C560.77,449.82 562.33,449.18 564.10,448.50C565.87,447.82 568.15,446.68 570.00,446.10C571.85,445.52 573.65,445.13 575.20,445.00C576.75,444.87 577.83,445.02 579.30,445.30C580.77,445.58 582.25,446.07 584.00,446.70C585.75,447.33 588.05,448.42 589.80,449.10C591.55,449.78 593.13,450.80 594.50,450.80C595.87,450.80 597.03,450.07 598.00,449.10C598.97,448.13 599.62,446.37 600.30,445.00C600.98,443.63 601.55,441.98 602.10,440.90C602.65,439.82 603.15,438.60 603.60,438.50C604.05,438.40 604.47,438.93 604.80,440.30C605.13,441.67 605.37,444.08 605.60,446.70C605.83,449.32 606.02,452.30 606.20,456.00C606.38,459.70 606.58,465.23 606.70,468.90C606.82,472.57 606.80,475.18 606.90,478.00C607.00,480.82 607.15,483.13 607.30,485.80C607.45,488.47 607.52,491.27 607.80,494.00C608.08,496.73 608.50,499.67 609.00,502.20C609.50,504.73 610.12,507.25 610.80,509.20C611.48,511.15 612.33,512.70 613.10,513.90C613.87,515.10 614.52,515.78 615.40,516.40C616.28,517.02 617.42,517.48 618.40,517.60C619.38,517.72 620.05,517.43 621.30,517.10C622.55,516.77 624.45,516.03 625.90,515.60C627.35,515.17 628.63,514.83 630.00,514.50C631.37,514.17 632.93,513.70 634.10,513.60C635.27,513.50 635.83,513.67 637.00,513.90C638.17,514.13 639.63,514.47 641.10,515.00C642.57,515.53 644.33,516.55 645.80,517.10C647.27,517.65 648.63,518.00 649.90,518.30C651.17,518.60 652.43,518.95 653.40,518.90C654.37,518.85 655.02,518.65 655.70,518.00C656.38,517.35 656.97,515.73 657.50,515.00C658.03,514.27 658.52,513.68 658.90,513.60C659.28,513.52 659.35,513.97 659.80,514.50C660.25,515.03 660.92,515.97 661.60,516.80C662.28,517.63 663.03,518.72 663.90,519.50C664.77,520.28 665.83,520.92 666.80,521.50C667.77,522.08 668.72,522.65 669.70,523.00C670.68,523.35 671.82,523.53 672.70,523.60C673.58,523.67 674.23,523.57 675.00,523.40C675.77,523.23 676.92,522.73 677.30,522.60" fill="none" stroke="#8a8a8a" stroke-width="2.2" stroke-linejoin="round" stroke-linecap="round"/>
<path d="M409.10,343.40C409.58,343.00 410.93,341.75 412.00,341.00C413.07,340.25 414.53,339.18 415.50,338.90C416.47,338.62 416.92,339.03 417.80,339.30C418.68,339.57 419.82,340.60 420.80,340.50C421.78,340.40 422.73,339.38 423.70,338.70C424.67,338.02 425.63,337.05 426.60,336.40C427.57,335.75 428.43,334.97 429.50,334.80C430.57,334.63 431.83,335.13 433.00,335.40C434.17,335.67 435.42,336.08 436.50,336.40C437.58,336.72 438.52,336.82 439.50,337.30C440.48,337.78 441.43,338.58 442.40,339.30C443.37,340.02 444.33,340.98 445.30,341.60C446.27,342.22 447.13,342.70 448.20,343.00C449.27,343.30 450.53,343.28 451.70,343.40C452.87,343.52 454.13,343.42 455.20,343.70C456.27,343.98 457.22,344.53 458.10,345.10C458.98,345.67 459.82,346.62 460.50,347.10C461.18,347.58 461.62,348.13 462.20,348.00C462.78,347.87 463.42,347.27 464.00,346.30C464.58,345.33 465.12,343.37 465.70,342.20C466.28,341.03 466.92,339.88 467.50,339.30C468.08,338.72 468.62,338.50 469.20,338.70C469.78,338.90 470.42,339.62 471.00,340.50C471.58,341.38 472.12,342.55 472.70,344.00C473.28,345.45 473.92,347.27 474.50,349.20C475.08,351.13 475.62,353.37 476.20,355.60C476.78,357.83 477.42,360.45 478.00,362.60C478.58,364.75 479.12,366.83 479.70,368.50C480.28,370.17 480.82,371.53 481.50,372.60C482.18,373.67 483.05,374.33 483.80,374.90C484.55,375.47 485.23,375.67 486.00,376.00C486.77,376.33 487.32,376.30 488.40,376.90C489.48,377.50 491.23,379.12 492.50,379.60C493.77,380.08 494.83,379.67 496.00,379.80C497.17,379.93 498.33,379.80 499.50,380.40C500.67,381.00 501.83,382.37 503.00,383.40C504.17,384.43 505.42,385.77 506.50,386.60C507.58,387.43 508.42,387.87 509.50,388.40C510.58,388.93 511.93,389.08 513.00,389.80C514.07,390.52 514.83,391.43 515.90,392.70C516.97,393.97 518.23,396.03 519.40,397.40C520.57,398.77 521.73,399.97 522.90,400.90C524.07,401.83 525.33,402.23 526.40,403.00C527.47,403.77 528.33,404.78 529.30,405.50C530.27,406.22 531.32,407.20 532.20,407.30C533.08,407.40 533.82,407.17 534.60,406.10C535.38,405.03 536.03,402.85 536.90,400.90C537.77,398.95 538.92,396.25 539.80,394.40C540.68,392.55 541.58,390.77 542.20,389.80C542.82,388.83 543.07,388.60 543.50,388.60C543.93,388.60 544.18,388.83 544.80,389.80C545.42,390.77 546.32,392.55 547.20,394.40C548.08,396.25 549.23,398.95 550.10,400.90C550.97,402.85 551.62,405.03 552.40,406.10C553.18,407.17 553.92,407.40 554.80,407.30C555.68,407.20 556.73,406.22 557.70,405.50C558.67,404.78 559.53,403.77 560.60,403.00C561.67,402.23 562.93,401.83 564.10,400.90C565.27,399.97 566.43,398.77 567.60,397.40C568.77,396.03 570.03,393.97 571.10,392.70C572.17,391.43 572.93,390.52 574.00,389.80C575.07,389.08 576.42,388.93 577.50,388.40C578.58,387.87 579.42,387.43 580.50,386.60C581.58,385.77 582.83,384.43 584.00,383.40C585.17,382.37 586.33,381.00 587.50,380.40C588.67,379.80 589.83,379.93 591.00,379.80C592.17,379.67 593.23,380.08 594.50,379.60C595.77,379.12 597.52,377.50 598.60,376.90C599.68,376.30 600.23,376.33 601.00,376.00C601.77,375.67 602.45,375.47 603.20,374.90C603.95,374.33 604.82,373.67 605.50,372.60C606.18,371.53 606.72,370.17 607.30,368.50C607.88,366.83 608.42,364.75 609.00,362.60C609.58,360.45 610.22,357.83 610.80,355.60C611.38,353.37 611.92,351.13 612.50,349.20C613.08,347.27 613.72,345.45 614.30,344.00C614.88,342.55 615.42,341.38 616.00,340.50C616.58,339.62 617.22,338.90 617.80,338.70C618.38,338.50 618.92,338.72 619.50,339.30C620.08,339.88 620.72,341.03 621.30,342.20C621.88,343.37 622.42,345.33 623.00,346.30C623.58,347.27 624.22,347.87 624.80,348.00C625.38,348.13 625.82,347.58 626.50,347.10C627.18,346.62 628.02,345.67 628.90,345.10C629.78,344.53 630.73,343.98 631.80,343.70C632.87,343.42 634.13,343.52 635.30,343.40C636.47,343.28 637.73,343.30 638.80,343.00C639.87,342.70 640.73,342.22 641.70,341.60C642.67,340.98 643.63,340.02 644.60,339.30C645.57,338.58 646.52,337.78 647.50,337.30C648.48,336.82 649.42,336.72 650.50,336.40C651.58,336.08 652.83,335.67 654.00,335.40C655.17,335.13 656.43,334.63 657.50,334.80C658.57,334.97 659.43,335.75 660.40,336.40C661.37,337.05 662.33,338.02 663.30,338.70C664.27,339.38 665.22,340.40 666.20,340.50C667.18,340.60 668.32,339.57 669.20,339.30C670.08,339.03 670.53,338.62 671.50,338.90C672.47,339.18 673.93,340.25 675.00,341.00C676.07,341.75 677.42,343.00 677.90,343.40" fill="none" stroke="#000" stroke-width="3.3" stroke-linejoin="round" stroke-linecap="round"/>
</g>
<g transform="translate(13.0,107) rotate(-90)" style="font-family:'Liberation Serif',serif;font-size:16.0px"><text x="-17.8" y="0" font-style="italic" textLength="9.6" lengthAdjust="spacingAndGlyphs">a</text><path d="M-4.10,-12.60H-5.60V3.50H-4.10" fill="none" stroke="#000" stroke-width="0.85"/><text x="-3.7" y="0" textLength="17.3" lengthAdjust="spacingAndGlyphs">au</text><path d="M14.60,-12.60H16.10V3.50H14.60" fill="none" stroke="#000" stroke-width="0.85"/></g>
<g transform="translate(365.7,107) rotate(-90)" style="font-family:'Liberation Serif',serif;font-size:16.0px"><text x="-17.8" y="0" font-style="italic" textLength="9.6" lengthAdjust="spacingAndGlyphs">a</text><path d="M-4.10,-12.60H-5.60V3.50H-4.10" fill="none" stroke="#000" stroke-width="0.85"/><text x="-3.7" y="0" textLength="17.3" lengthAdjust="spacingAndGlyphs">au</text><path d="M14.60,-12.60H16.10V3.50H14.60" fill="none" stroke="#000" stroke-width="0.85"/></g>
<g transform="translate(15.5,424.6) rotate(-90)" style="font-family:'Liberation Serif',serif;font-size:16.0px"><text x="-17.8" y="0" font-style="italic" textLength="9.6" lengthAdjust="spacingAndGlyphs">a</text><path d="M-4.10,-12.60H-5.60V3.50H-4.10" fill="none" stroke="#000" stroke-width="0.85"/><text x="-3.7" y="0" textLength="17.3" lengthAdjust="spacingAndGlyphs">au</text><path d="M14.60,-12.60H16.10V3.50H14.60" fill="none" stroke="#000" stroke-width="0.85"/></g>
<g transform="translate(366.0,424.6) rotate(-90)" style="font-family:'Liberation Serif',serif;font-size:16.0px"><text x="-17.8" y="0" font-style="italic" textLength="9.6" lengthAdjust="spacingAndGlyphs">a</text><path d="M-4.10,-12.60H-5.60V3.50H-4.10" fill="none" stroke="#000" stroke-width="0.85"/><text x="-3.7" y="0" textLength="17.3" lengthAdjust="spacingAndGlyphs">au</text><path d="M14.60,-12.60H16.10V3.50H14.60" fill="none" stroke="#000" stroke-width="0.85"/></g>
<g style="font-family:'Liberation Serif',serif;font-size:17.3px"><text x="177.10" y="248" font-style="italic" textLength="4.9" lengthAdjust="spacingAndGlyphs">t</text><path d="M187.00,235.20H185.40V252.10H187.00" fill="none" stroke="#000" stroke-width="0.85"/><text x="187.90" y="248" textLength="30.2" lengthAdjust="spacingAndGlyphs">year</text><path d="M219.40,235.20H221.00V252.10H219.40" fill="none" stroke="#000" stroke-width="0.85"/></g>
<g style="font-family:'Liberation Serif',serif;font-size:17.3px"><text x="524.10" y="248" font-style="italic" textLength="4.9" lengthAdjust="spacingAndGlyphs">t</text><path d="M534.00,235.20H532.40V252.10H534.00" fill="none" stroke="#000" stroke-width="0.85"/><text x="534.90" y="248" textLength="30.2" lengthAdjust="spacingAndGlyphs">year</text><path d="M566.40,235.20H568.00V252.10H566.40" fill="none" stroke="#000" stroke-width="0.85"/></g>
<g style="font-family:'Liberation Serif',serif;font-size:17.3px"><text x="174.00" y="566" font-style="italic" textLength="4.9" lengthAdjust="spacingAndGlyphs">t</text><path d="M183.90,553.20H182.30V570.10H183.90" fill="none" stroke="#000" stroke-width="0.85"/><text x="184.80" y="566" textLength="30.2" lengthAdjust="spacingAndGlyphs">year</text><path d="M216.30,553.20H217.90V570.10H216.30" fill="none" stroke="#000" stroke-width="0.85"/></g>
<g style="font-family:'Liberation Serif',serif;font-size:17.3px"><text x="520.90" y="566" font-style="italic" textLength="4.9" lengthAdjust="spacingAndGlyphs">t</text><path d="M530.80,553.20H529.20V570.10H530.80" fill="none" stroke="#000" stroke-width="0.85"/><text x="531.70" y="566" textLength="30.2" lengthAdjust="spacingAndGlyphs">year</text><path d="M563.20,553.20H564.80V570.10H563.20" fill="none" stroke="#000" stroke-width="0.85"/></g>
<g style="font-family:'Liberation Serif',serif;font-size:16.5px"><text x="52.80" y="277.8" textLength="22.40" lengthAdjust="spacingAndGlyphs" style="font-weight:bold;font-size:18px">(a)</text><text x="80.00" y="277.8" textLength="29.50" lengthAdjust="spacingAndGlyphs">case</text><text x="115.60" y="277.8" textLength="6.60" lengthAdjust="spacingAndGlyphs">1</text><text x="128.40" y="277.8" textLength="4.90" lengthAdjust="spacingAndGlyphs">-</text><text x="140.30" y="277.8" textLength="8.10" lengthAdjust="spacingAndGlyphs" style="font-style:italic">a</text><text x="149.10" y="277.8" textLength="19.00" lengthAdjust="spacingAndGlyphs">(0)</text><text x="173.90" y="278.7" textLength="12.90" lengthAdjust="spacingAndGlyphs">=</text><text x="191.40" y="277.8" textLength="20.50" lengthAdjust="spacingAndGlyphs">2.3</text><text x="218.40" y="277.8" textLength="21.50" lengthAdjust="spacingAndGlyphs">au,</text><text x="244.90" y="277.8" textLength="8.90" lengthAdjust="spacingAndGlyphs" style="font-style:italic">e</text><text x="253.70" y="277.8" textLength="19.80" lengthAdjust="spacingAndGlyphs">(0)</text><text x="278.50" y="278.7" textLength="12.50" lengthAdjust="spacingAndGlyphs">=</text><text x="296.00" y="277.8" textLength="20.50" lengthAdjust="spacingAndGlyphs">0.1</text></g>
<g style="font-family:'Liberation Serif',serif;font-size:16.5px"><text x="400.80" y="277.8" textLength="24.60" lengthAdjust="spacingAndGlyphs" style="font-weight:bold;font-size:18px">(b)</text><text x="430.70" y="277.8" textLength="29.50" lengthAdjust="spacingAndGlyphs">case</text><text x="466.00" y="277.8" textLength="7.40" lengthAdjust="spacingAndGlyphs">2</text><text x="479.10" y="277.8" textLength="4.90" lengthAdjust="spacingAndGlyphs">-</text><text x="491.00" y="277.8" textLength="8.10" lengthAdjust="spacingAndGlyphs" style="font-style:italic">a</text><text x="499.80" y="277.8" textLength="19.00" lengthAdjust="spacingAndGlyphs">(0)</text><text x="524.60" y="278.7" textLength="12.90" lengthAdjust="spacingAndGlyphs">=</text><text x="542.10" y="277.8" textLength="20.50" lengthAdjust="spacingAndGlyphs">2.3</text><text x="569.10" y="277.8" textLength="21.50" lengthAdjust="spacingAndGlyphs">au,</text><text x="595.60" y="277.8" textLength="8.90" lengthAdjust="spacingAndGlyphs" style="font-style:italic">e</text><text x="604.40" y="277.8" textLength="19.80" lengthAdjust="spacingAndGlyphs">(0)</text><text x="629.20" y="278.7" textLength="12.50" lengthAdjust="spacingAndGlyphs">=</text><text x="646.70" y="277.8" textLength="20.50" lengthAdjust="spacingAndGlyphs">0.5</text></g>
<g style="font-family:'Liberation Serif',serif;font-size:16.5px"><text x="52.90" y="595.8" textLength="21.70" lengthAdjust="spacingAndGlyphs" style="font-weight:bold;font-size:18px">(c)</text><text x="80.10" y="595.8" textLength="29.50" lengthAdjust="spacingAndGlyphs">case</text><text x="115.40" y="595.8" textLength="7.40" lengthAdjust="spacingAndGlyphs">3</text><text x="128.50" y="595.8" textLength="4.90" lengthAdjust="spacingAndGlyphs">-</text><text x="140.40" y="595.8" textLength="8.10" lengthAdjust="spacingAndGlyphs" style="font-style:italic">a</text><text x="149.20" y="595.8" textLength="19.00" lengthAdjust="spacingAndGlyphs">(0)</text><text x="174.00" y="596.6999999999999" textLength="12.90" lengthAdjust="spacingAndGlyphs">=</text><text x="191.50" y="595.8" textLength="20.50" lengthAdjust="spacingAndGlyphs">2.3</text><text x="218.50" y="595.8" textLength="21.50" lengthAdjust="spacingAndGlyphs">au,</text><text x="245.00" y="595.8" textLength="8.90" lengthAdjust="spacingAndGlyphs" style="font-style:italic">e</text><text x="253.80" y="595.8" textLength="19.80" lengthAdjust="spacingAndGlyphs">(0)</text><text x="278.60" y="596.6999999999999" textLength="12.50" lengthAdjust="spacingAndGlyphs">=</text><text x="296.10" y="595.8" textLength="20.50" lengthAdjust="spacingAndGlyphs">0.7</text></g>
<g style="font-family:'Liberation Serif',serif;font-size:16.5px"><text x="406.60" y="595.8" textLength="24.80" lengthAdjust="spacingAndGlyphs" style="font-weight:bold;font-size:18px">(d)</text><text x="437.30" y="595.8" textLength="29.50" lengthAdjust="spacingAndGlyphs">case</text><text x="471.10" y="595.8" textLength="9.30" lengthAdjust="spacingAndGlyphs">4</text><text x="485.70" y="595.8" textLength="4.90" lengthAdjust="spacingAndGlyphs">-</text><text x="496.60" y="595.8" textLength="8.40" lengthAdjust="spacingAndGlyphs" style="font-style:italic">a</text><text x="505.40" y="595.8" textLength="20.80" lengthAdjust="spacingAndGlyphs">(0)</text><text x="531.20" y="596.6999999999999" textLength="12.50" lengthAdjust="spacingAndGlyphs">=</text><text x="548.00" y="595.8" textLength="9.60" lengthAdjust="spacingAndGlyphs">4</text><text x="561.90" y="595.8" textLength="21.90" lengthAdjust="spacingAndGlyphs">au,</text><text x="589.10" y="595.8" textLength="8.80" lengthAdjust="spacingAndGlyphs" style="font-style:italic">e</text><text x="597.80" y="595.8" textLength="19.80" lengthAdjust="spacingAndGlyphs">(0)</text><text x="622.70" y="596.6999999999999" textLength="12.90" lengthAdjust="spacingAndGlyphs">=</text><text x="640.20" y="595.8" textLength="20.50" lengthAdjust="spacingAndGlyphs">0.1</text></g>
</svg>
</body></html>
